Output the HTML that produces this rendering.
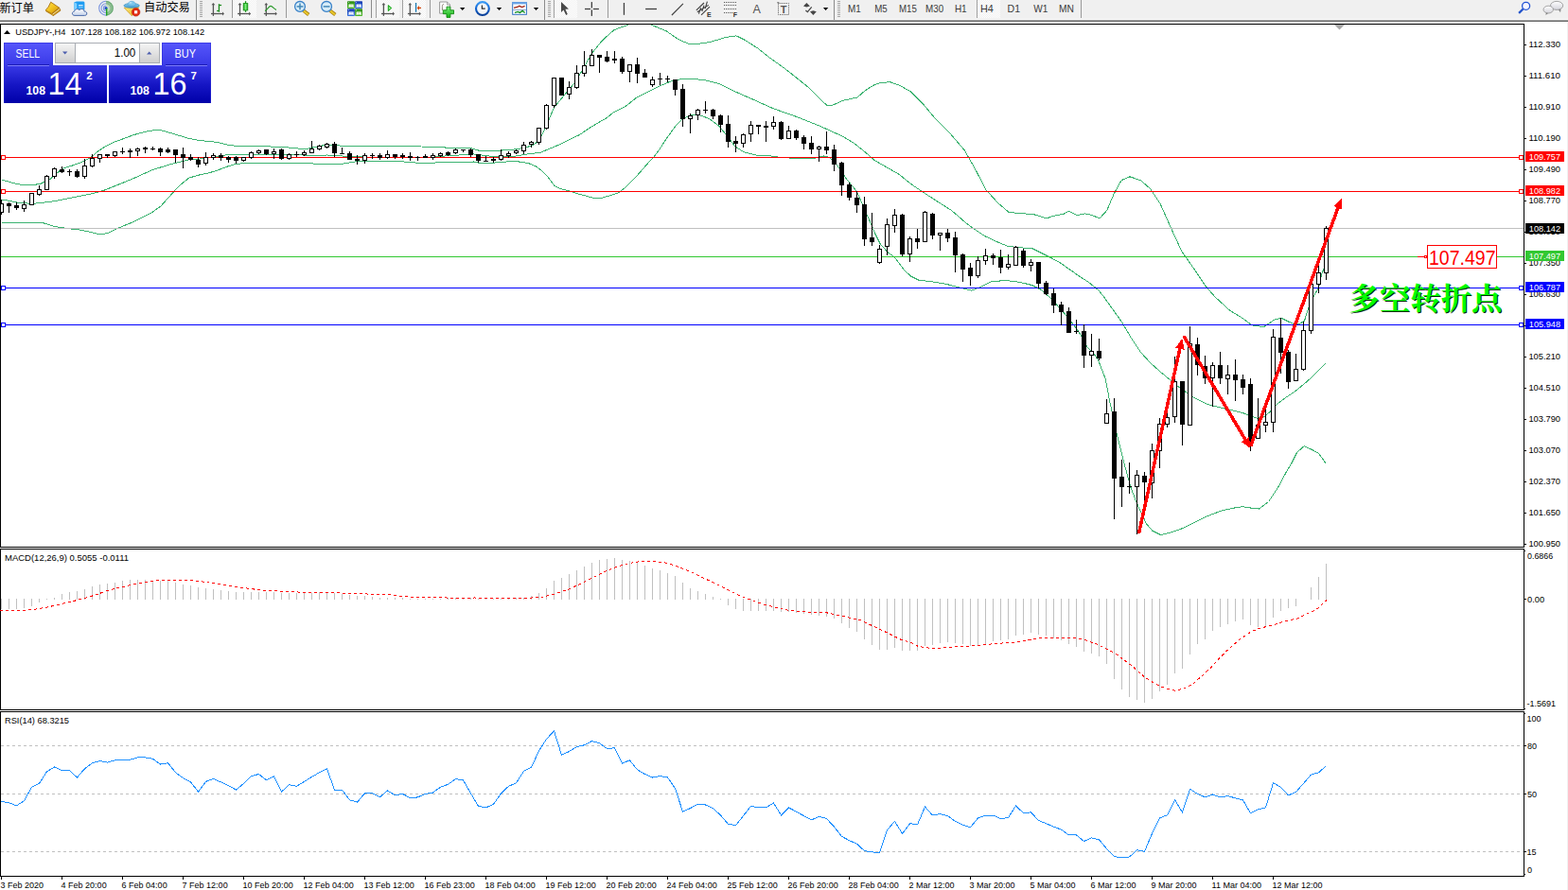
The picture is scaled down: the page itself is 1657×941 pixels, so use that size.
<!DOCTYPE html><html><head><meta charset="utf-8"><title>USDJPY H4</title>
<style>html,body{margin:0;padding:0;background:#fff;overflow:hidden}body{width:1657px;height:941px;position:relative;font-family:"Liberation Sans", sans-serif}svg{position:absolute;left:0;top:0;display:block}text{font-family:"Liberation Sans", sans-serif}</style></head><body>
<svg width="1657" height="941" viewBox="0 0 1657 941">
<defs>
<linearGradient id="gb" x1="0" y1="0" x2="0" y2="1"><stop offset="0" stop-color="#5050f4"/><stop offset="0.45" stop-color="#2c2cde"/><stop offset="1" stop-color="#0000b4"/></linearGradient>
<linearGradient id="gt" x1="0" y1="0" x2="0" y2="1"><stop offset="0" stop-color="#5252f6"/><stop offset="1" stop-color="#3c3ce8"/></linearGradient>
<linearGradient id="gbtn" x1="0" y1="0" x2="0" y2="1"><stop offset="0" stop-color="#f4f4f4"/><stop offset="0.5" stop-color="#e2e2e2"/><stop offset="1" stop-color="#cfcfcf"/></linearGradient>
<clipPath id="cm"><rect x="1" y="26" width="1609" height="552"/></clipPath>
</defs>
<rect x="0" y="0" width="1657" height="20" fill="#f0f0f0"/>
<rect x="0" y="20" width="1657" height="1" fill="#f9f9f9"/>
<rect x="0" y="21" width="1657" height="1" fill="#a2a2a2"/>
<rect x="0" y="22" width="1657" height="1" fill="#6a6a6a"/>
<g><defs><linearGradient id="gold" x1="0" y1="0" x2="1" y2="1"><stop offset="0" stop-color="#ffe15a"/><stop offset="0.5" stop-color="#f2c21c"/><stop offset="1" stop-color="#c98a10"/></linearGradient><linearGradient id="cloud" x1="0" y1="0" x2="0" y2="1"><stop offset="0" stop-color="#ffffff"/><stop offset="1" stop-color="#c4d2ea"/></linearGradient><linearGradient id="hat" x1="0" y1="0" x2="0" y2="1"><stop offset="0" stop-color="#8fd0f0"/><stop offset="1" stop-color="#3f97cc"/></linearGradient><linearGradient id="face" x1="0" y1="0" x2="1" y2="1"><stop offset="0" stop-color="#fff27a"/><stop offset="1" stop-color="#e3a51a"/></linearGradient><linearGradient id="cndl" x1="0" y1="0" x2="1" y2="0"><stop offset="0" stop-color="#18a818"/><stop offset="0.5" stop-color="#7dee7d"/><stop offset="1" stop-color="#18a818"/></linearGradient><linearGradient id="clk" x1="0" y1="0" x2="0" y2="1"><stop offset="0" stop-color="#3b9bf5"/><stop offset="0.5" stop-color="#0f62d2"/><stop offset="1" stop-color="#0a3f96"/></linearGradient><linearGradient id="plus" x1="0" y1="0" x2="0" y2="1"><stop offset="0" stop-color="#7cf07c"/><stop offset="1" stop-color="#12b012"/></linearGradient><linearGradient id="tg" x1="0" y1="0" x2="0" y2="1"><stop offset="0" stop-color="#2e8e14"/><stop offset="1" stop-color="#4fb82a"/></linearGradient><linearGradient id="tbb" x1="0" y1="0" x2="0" y2="1"><stop offset="0" stop-color="#1438b0"/><stop offset="1" stop-color="#3a74e0"/></linearGradient><linearGradient id="sig" x1="0" y1="0" x2="1" y2="0"><stop offset="0.45" stop-color="#3a62d6"/><stop offset="0.6" stop-color="#6aaa6a"/><stop offset="1" stop-color="#2e9a3a"/></linearGradient><radialGradient id="sigr" gradientUnits="userSpaceOnUse" cx="112.1" cy="8.7" r="7.6"><stop offset="0" stop-color="#e8f2e4"/><stop offset="0.55" stop-color="#a8cfa6"/><stop offset="1" stop-color="#4a9c58"/></radialGradient><linearGradient id="bub" x1="0" y1="0" x2="0" y2="1"><stop offset="0" stop-color="#ffffff"/><stop offset="1" stop-color="#d4d4dc"/></linearGradient><pattern id="dith" width="2" height="2" patternUnits="userSpaceOnUse"><rect width="2" height="2" fill="#f0f0f0"/><rect width="1" height="1" fill="#fff"/><rect x="1" y="1" width="1" height="1" fill="#fff"/></pattern></defs><text x="-0.6" y="12.5" font-size="12.2" fill="#000" textLength="36.6" lengthAdjust="spacingAndGlyphs" style="font-family:'Liberation Sans','Noto Sans CJK SC',sans-serif">新订单</text><text x="152" y="12.3" font-size="12.2" fill="#000" textLength="48.8" lengthAdjust="spacingAndGlyphs" style="font-family:'Liberation Sans','Noto Sans CJK SC',sans-serif">自动交易</text><path d="M62.6 8.2L64 11.1L56.1 16.7L54.6 14.4Z" fill="#c99418" stroke="#a8700f" stroke-width="0.8" stroke-linejoin="round"/><path d="M62.9 9.6L55.4 15.4" stroke="#f4e6b0" stroke-width="0.9"/><path d="M53.7 2.2L62.6 8.2L54.6 14.4L48.1 10.9L51.2 7.2Z" fill="url(#gold)" stroke="#a8700f" stroke-width="0.9" stroke-linejoin="round"/><path d="M48.1 10.9L54.6 14.4L56.1 16.7L48.6 12.2Z" fill="#b8820f"/><path d="M78.3 2.4L81 1.4H88.4L89.4 2.6V10.5H78.3Z" fill="#1e9df2"/><path d="M78.3 2.4L81.3 3.8V11H78.3Z" fill="#7fd0ff"/><rect x="83" y="5" width="4.6" height="1.3" fill="#cfeaff"/><rect x="83" y="7.4" width="4.6" height="1" fill="#8fd0ff"/><path d="M79 16.4C75.6 16.4 75.6 12.3 78.6 12.1C78.8 9.4 82.6 8.8 83.8 10.8C85.4 8.6 89.2 9.6 88.9 12C92.4 11.6 92.9 16.4 89.6 16.4Z" fill="url(#cloud)" stroke="#4c6cab" stroke-width="1"/><path d="M112.1 1.1A7.6 7.6 0 0 1 112.1 16.3Z" fill="url(#sigr)" opacity="0.8"/><g fill="none" stroke="#4a6fd8" stroke-width="1.1" opacity="0.7"><path d="M112.1 1.3A7.4 7.4 0 0 0 112.1 16.1"/><path d="M112.1 3.7A5 5 0 0 0 112.1 13.7"/><path d="M112.1 6A2.7 2.7 0 0 0 112.1 11.4"/></g><g fill="none" stroke="#3f8f4c" stroke-width="0.9" opacity="0.45"><path d="M112.1 1.3A7.4 7.4 0 0 1 112.1 16.1"/><path d="M112.1 3.7A5 5 0 0 1 112.1 13.7"/></g><circle cx="112" cy="8.6" r="1.6" fill="#2152cc"/><rect x="112" y="9" width="1.4" height="7.6" fill="#1ea01e"/><path d="M131.1 8.2L146.8 7.7L139.4 16.8Z" fill="url(#face)" stroke="#c9961a" stroke-width="0.7" stroke-linejoin="round"/><ellipse cx="139.1" cy="5.9" rx="8.2" ry="2.4" fill="url(#hat)" stroke="#3a8fc2" stroke-width="0.7"/><path d="M134.9 5.2C134.9 0 143.4 0 143.4 5.2C141 6.4 137.4 6.4 134.9 5.2Z" fill="#7cc6ec" stroke="#4a9fd0" stroke-width="0.5"/><ellipse cx="138" cy="2.8" rx="1.6" ry="0.9" fill="#c4e6f8" opacity="0.8"/><circle cx="143.6" cy="12.8" r="4.3" fill="#e22a10"/><circle cx="143.6" cy="12.8" r="4.3" fill="none" stroke="#b81e08" stroke-width="0.6"/><rect x="142" y="11.2" width="3.2" height="3.2" fill="#fff"/><rect x="207" y="0" width="1" height="21" fill="#8c8c8c" shape-rendering="crispEdges"/><g shape-rendering="crispEdges" fill="#a6a6a6"><rect x="211" y="1" width="3" height="1"/><rect x="211" y="3" width="3" height="1"/><rect x="211" y="5" width="3" height="1"/><rect x="211" y="7" width="3" height="1"/><rect x="211" y="9" width="3" height="1"/><rect x="211" y="11" width="3" height="1"/><rect x="211" y="13" width="3" height="1"/><rect x="211" y="15" width="3" height="1"/><rect x="211" y="17" width="3" height="1"/></g><g fill="#555"><rect x="224.75" y="4.5" width="1.3" height="12.4"/><path d="M223.5 5.2L225.4 3L227.3 5.2Z"/><rect x="223.0" y="13.85" width="12.4" height="1.3"/><path d="M235.0 12.6L237.0 14.5L235.0 16.4Z"/></g><g fill="#1a8a1a"><rect x="230.8" y="4.2" width="1.3" height="8.5"/><rect x="231.4" y="4.9" width="2.7" height="1.2"/><rect x="229.1" y="10.9" width="2.3" height="1.2"/></g><rect x="245" y="0" width="1" height="19" fill="#9a9a9a" shape-rendering="crispEdges"/><rect x="246" y="0" width="25" height="19" fill="url(#dith)" shape-rendering="crispEdges"/><g fill="#555"><rect x="252.85" y="4.5" width="1.3" height="12.4"/><path d="M251.6 5.2L253.5 3L255.4 5.2Z"/><rect x="251.1" y="13.85" width="12.4" height="1.3"/><path d="M263.1 12.6L265.1 14.5L263.1 16.4Z"/></g><rect x="258.9" y="1.2" width="1.3" height="11.6" fill="#149414"/><rect x="257.2" y="3.6" width="4.6" height="7.3" fill="url(#cndl)" stroke="#119011" stroke-width="0.8"/><g fill="#555"><rect x="280.65000000000003" y="4.5" width="1.3" height="12.4"/><path d="M279.40000000000003 5.2L281.3 3L283.2 5.2Z"/><rect x="278.90000000000003" y="13.85" width="12.4" height="1.3"/><path d="M290.90000000000003 12.6L292.90000000000003 14.5L290.90000000000003 16.4Z"/></g><path d="M280.1 11.6C283 10 284.2 6.4 286 6.3C288 6.2 289.4 9.6 292 10.3" fill="none" stroke="#2a9a2a" stroke-width="1.2"/><rect x="302" y="0" width="1" height="19" fill="#9a9a9a" shape-rendering="crispEdges"/><path d="M320.6 11.100000000000001L326.2 15.5" stroke="#a07a10" stroke-width="3.6" stroke-linecap="butt"/><path d="M320.8 11.3L325.9 15.3" stroke="#e8c62a" stroke-width="2.2"/><circle cx="317" cy="6.9" r="5.4" fill="#d6ecf8" stroke="#3a82c8" stroke-width="1.3"/><rect x="313.6" y="6.15" width="6.8" height="1.5" fill="#4388b8"/><rect x="316.25" y="3.5" width="1.5" height="6.8" fill="#4388b8"/><path d="M348.70000000000005 11.100000000000001L354.3 15.5" stroke="#a07a10" stroke-width="3.6" stroke-linecap="butt"/><path d="M348.90000000000003 11.3L354.0 15.3" stroke="#e8c62a" stroke-width="2.2"/><circle cx="345.1" cy="6.9" r="5.4" fill="#d6ecf8" stroke="#3a82c8" stroke-width="1.3"/><rect x="341.70000000000005" y="6.15" width="6.8" height="1.5" fill="#4388b8"/><rect x="367" y="1.2" width="7.9" height="7.8" rx="0.8" fill="url(#tg)"/><path d="M368.5 4.4H373.6V8.0H372.9V7.4H369.2V8.0H368.5Z" fill="#fff"/><rect x="369.6" y="5.5" width="3" height="0.7" fill="#9fd07a"/><rect x="368" y="2.2" width="0.9" height="0.9" fill="#dfe8ff" opacity="0.8"/><rect x="375.1" y="1.2" width="7.9" height="7.8" rx="0.8" fill="url(#tbb)"/><path d="M376.6 4.4H381.70000000000005V8.0H381.0V7.4H377.3V8.0H376.6Z" fill="#fff"/><rect x="377.70000000000005" y="5.5" width="3" height="0.7" fill="#8fa8e8"/><rect x="376.1" y="2.2" width="0.9" height="0.9" fill="#dfe8ff" opacity="0.8"/><rect x="367" y="9.2" width="7.9" height="7.8" rx="0.8" fill="url(#tbb)"/><path d="M368.5 12.399999999999999H373.6V16.0H372.9V15.399999999999999H369.2V16.0H368.5Z" fill="#fff"/><rect x="369.6" y="13.5" width="3" height="0.7" fill="#8fa8e8"/><rect x="368" y="10.2" width="0.9" height="0.9" fill="#dfe8ff" opacity="0.8"/><rect x="375.1" y="9.2" width="7.9" height="7.8" rx="0.8" fill="url(#tg)"/><path d="M376.6 12.399999999999999H381.70000000000005V16.0H381.0V15.399999999999999H377.3V16.0H376.6Z" fill="#fff"/><rect x="377.70000000000005" y="13.5" width="3" height="0.7" fill="#9fd07a"/><rect x="376.1" y="10.2" width="0.9" height="0.9" fill="#dfe8ff" opacity="0.8"/><rect x="392" y="0" width="1" height="19" fill="#8c8c8c" shape-rendering="crispEdges"/><rect x="398" y="0" width="24" height="19" fill="url(#dith)" shape-rendering="crispEdges"/><rect x="397" y="0" width="1" height="19" fill="#a0a0a0" shape-rendering="crispEdges"/><g fill="#555"><rect x="404.75" y="4.5" width="1.3" height="12.4"/><path d="M403.5 5.2L405.4 3L407.29999999999995 5.2Z"/><rect x="403.0" y="13.85" width="12.4" height="1.3"/><path d="M415.0 12.6L417.0 14.5L415.0 16.4Z"/></g><path d="M410.3 5.6V11.6L413.8 8.5Z" fill="#86e386" stroke="#12a012" stroke-width="1" stroke-linejoin="round"/><rect x="426" y="0" width="24" height="19" fill="url(#dith)" shape-rendering="crispEdges"/><rect x="425" y="0" width="1" height="19" fill="#a0a0a0" shape-rendering="crispEdges"/><g fill="#555"><rect x="432.65000000000003" y="4.5" width="1.3" height="12.4"/><path d="M431.40000000000003 5.2L433.3 3L435.2 5.2Z"/><rect x="430.90000000000003" y="13.85" width="12.4" height="1.3"/><path d="M442.90000000000003 12.6L444.90000000000003 14.5L442.90000000000003 16.4Z"/></g><rect x="438.9" y="3" width="1.3" height="9.8" fill="#1878b0"/><path d="M440.6 8.4L443 6V7.8H445V9H443V10.8Z" fill="#d24400"/><rect x="454" y="0" width="1" height="19" fill="#9a9a9a" shape-rendering="crispEdges"/><path d="M464.6 2H472.6L475.6 5V14.2H464.6Z" fill="#fbfbfb" stroke="#8e8e8e" stroke-width="0.9"/><path d="M472.6 2V5H475.6" fill="#e4e4e4" stroke="#8e8e8e" stroke-width="0.8"/><path d="M468.8 4.5C467.4 4.5 467.4 6 467.4 7.5V11" fill="none" stroke="#807868" stroke-width="0.9"/><path d="M472 7.2H475.9V10.8H479.5V14.7H475.9V18.4H472V14.7H468.3V10.8H472Z" fill="url(#plus)" stroke="#118a11" stroke-width="0.9" stroke-linejoin="round"/><path d="M486 7.9H491.4L488.7 10.9Z" fill="#000"/><circle cx="509.9" cy="9.05" r="6.9" fill="#f4f6f8" stroke="url(#clk)" stroke-width="2.1"/><path d="M509.4 5.4V9.2H512.7" fill="none" stroke="#2c2c2c" stroke-width="1.2"/><circle cx="509.9" cy="9.05" r="5.6" fill="none" stroke="#c4ccd6" stroke-width="0.5" stroke-dasharray="0.7 2.2"/><path d="M524.8 8.1H530.1999999999999L527.5 11.1Z" fill="#000"/><rect x="541.7" y="2.6" width="14.7" height="12.7" fill="#fff" stroke="#2f6fc0" stroke-width="1"/><rect x="541.2" y="2.1" width="15.7" height="2.3" fill="#6aa4e6"/><rect x="542.2" y="10" width="13.7" height="0.9" fill="#7f9fc8"/><path d="M543.1 8.4L547.3 7.2L548.8 6.3L551.6 7.5L554.6 6.3" fill="none" stroke="#a02010" stroke-width="1.3"/><path d="M544 13.4L547.3 12.4L549.4 13.4L552.2 11.4L554.6 13.4" fill="none" stroke="#109020" stroke-width="1.3"/><path d="M563.8 8.1H569.1999999999999L566.5 11.1Z" fill="#000"/><rect x="575" y="0" width="1" height="21" fill="#8c8c8c" shape-rendering="crispEdges"/><g shape-rendering="crispEdges" fill="#a6a6a6"><rect x="579" y="1" width="3" height="1"/><rect x="579" y="3" width="3" height="1"/><rect x="579" y="5" width="3" height="1"/><rect x="579" y="7" width="3" height="1"/><rect x="579" y="9" width="3" height="1"/><rect x="579" y="11" width="3" height="1"/><rect x="579" y="13" width="3" height="1"/><rect x="579" y="15" width="3" height="1"/><rect x="579" y="17" width="3" height="1"/></g><rect x="586" y="0" width="24" height="19" fill="url(#dith)" shape-rendering="crispEdges"/><rect x="585" y="0" width="1" height="19" fill="#a0a0a0" shape-rendering="crispEdges"/><path d="M593 2.1V13L595.5 10.6L598.2 16L599.8 15.1L597.4 9.7L601 9.5Z" fill="#484848"/><g fill="#404040"><rect x="624.7" y="2.1" width="1.3" height="6.4"/><rect x="624.7" y="10.4" width="1.3" height="6.5"/><rect x="618" y="8.85" width="6" height="1.3"/><rect x="626.9" y="8.85" width="6" height="1.3"/></g><rect x="642" y="0" width="1" height="19" fill="#9a9a9a" shape-rendering="crispEdges"/><rect x="658.8" y="3" width="1.3" height="12.8" fill="#404040"/><rect x="682.1" y="8.85" width="11.9" height="1.3" fill="#404040"/><path d="M709.9 16L721.9 3.9" stroke="#404040" stroke-width="1.2"/><g stroke="#404040" stroke-width="1.1" fill="none"><path d="M735.8 10.9L744 3"/><path d="M741 15.8L750 7.2"/><path d="M738.4 14.6L740.6 8.2M741.8 12L744 5.6M745.2 9L747.4 1.6M736.8 12.8L748.8 5.4"/></g><text x="747" y="17.8" font-size="7" font-weight="bold" fill="#333">E</text><g stroke="#505050" stroke-width="1" stroke-dasharray="1 1.05" shape-rendering="crispEdges"><path d="M765 2.5H778M765 5.5H778M765 9.5H778M765 13.5H774"/></g><text x="774.8" y="17.8" font-size="7" font-weight="bold" fill="#333">F</text><text x="795.4" y="13.9" font-size="12.6" fill="#555">A</text><rect x="822.5" y="3.5" width="11" height="12" fill="none" stroke="#555" stroke-width="1" stroke-dasharray="1 1.1"/><rect x="821.3" y="2.3" width="2" height="1" fill="#555"/><text x="828" y="13.6" font-size="11" font-weight="bold" fill="#555" text-anchor="middle">T</text><g fill="#454545"><path d="M849 6.6L852.4 3L855.9 6.6L852.4 7.6Z"/><path d="M856 12.3L859.4 15.9L862.8 12.3L859.4 11.3Z"/></g><path d="M851.4 11L853.4 12.7L857.7 7.3" fill="none" stroke="#454545" stroke-width="1.2"/><path d="M869.9 8H875.3L872.6 11Z" fill="#000"/><rect x="881" y="0" width="1" height="21" fill="#8c8c8c" shape-rendering="crispEdges"/><g shape-rendering="crispEdges" fill="#a6a6a6"><rect x="885" y="1" width="3" height="1"/><rect x="885" y="3" width="3" height="1"/><rect x="885" y="5" width="3" height="1"/><rect x="885" y="7" width="3" height="1"/><rect x="885" y="9" width="3" height="1"/><rect x="885" y="11" width="3" height="1"/><rect x="885" y="13" width="3" height="1"/><rect x="885" y="15" width="3" height="1"/><rect x="885" y="17" width="3" height="1"/></g><rect x="1033" y="0" width="24" height="19" fill="url(#dith)" shape-rendering="crispEdges"/><rect x="1032" y="0" width="1" height="19" fill="#a0a0a0" shape-rendering="crispEdges"/><text x="896.1" y="13" font-size="10.2" fill="#3c3c3c" textLength="13.8" lengthAdjust="spacingAndGlyphs">M1</text><text x="924.2" y="13" font-size="10.2" fill="#3c3c3c" textLength="13.5" lengthAdjust="spacingAndGlyphs">M5</text><text x="950.0" y="13" font-size="10.2" fill="#3c3c3c" textLength="18.8" lengthAdjust="spacingAndGlyphs">M15</text><text x="978.0" y="13" font-size="10.2" fill="#3c3c3c" textLength="19.1" lengthAdjust="spacingAndGlyphs">M30</text><text x="1008.9" y="13" font-size="10.2" fill="#3c3c3c" textLength="12.8" lengthAdjust="spacingAndGlyphs">H1</text><text x="1035.8999999999999" y="13" font-size="10.2" fill="#3c3c3c" textLength="13.9" lengthAdjust="spacingAndGlyphs">H4</text><text x="1064.6" y="13" font-size="10.2" fill="#3c3c3c" textLength="13.5" lengthAdjust="spacingAndGlyphs">D1</text><text x="1092.3" y="13" font-size="10.2" fill="#3c3c3c" textLength="15.1" lengthAdjust="spacingAndGlyphs">W1</text><text x="1119.1" y="13" font-size="10.2" fill="#3c3c3c" textLength="15.9" lengthAdjust="spacingAndGlyphs">MN</text><rect x="1142" y="0" width="1" height="19" fill="#9a9a9a" shape-rendering="crispEdges"/><path d="M1609.8 9.2L1605.1 13.9" stroke="#2253cc" stroke-width="2.2"/><circle cx="1612.6" cy="6.3" r="4" fill="#f6f6ff" stroke="#2253d4" stroke-width="1.3"/><path d="M1646.5 9.8L1649 13.2L1649.6 9.4Z" fill="#8a8a8a"/><ellipse cx="1645.1" cy="5.9" rx="6.6" ry="4.5" fill="url(#bub)" stroke="#8f8f8f" stroke-width="0.8"/><path d="M1634 13L1633.4 15.9L1636.6 13.6Z" fill="#777"/><ellipse cx="1636.2" cy="10.1" rx="5.2" ry="3.9" fill="url(#bub)" stroke="#8f8f8f" stroke-width="0.8"/></g>
<g shape-rendering="crispEdges">
<rect x="1656" y="23" width="1" height="918" fill="#f0f0f0"/>
<rect x="0" y="25" width="1611" height="1" fill="#000"/>
<rect x="0" y="25" width="1" height="554" fill="#000"/>
<rect x="1610" y="25" width="1" height="554" fill="#000"/>
<rect x="0" y="578" width="1611" height="1" fill="#000"/>
<rect x="0" y="580" width="1611" height="1" fill="#000"/>
<rect x="0" y="580" width="1" height="171" fill="#000"/>
<rect x="1610" y="580" width="1" height="171" fill="#000"/>
<rect x="0" y="750" width="1611" height="1" fill="#000"/>
<rect x="0" y="752" width="1611" height="1" fill="#000"/>
<rect x="0" y="752" width="1" height="175" fill="#000"/>
<rect x="1610" y="752" width="1" height="175" fill="#000"/>
<rect x="0" y="926" width="1611" height="1" fill="#000"/>
</g>
<g shape-rendering="crispEdges" clip-path="url(#cm)">
<polyline points="1.5,189.8 12.5,193.2 24.5,195.8 34.5,195.8 43.5,194.0 53.0,189.5 58.5,184.5 65.5,178.5 77.8,174.6 86.1,171.6 91.7,168.8 97.2,165.4 102.7,160.5 111.0,155.0 120.7,150.2 130.3,146.7 141.4,142.6 152.4,139.5 160.7,138.0 170.5,137.8 179.7,140.4 189.7,143.4 199.7,146.4 209.5,148.4 219.5,149.4 229.5,150.4 239.5,153.0 249.5,154.4 279.3,154.8 299.2,155.4 311.2,156.7 323.1,157.7 330.5,156.0 340.5,154.0 352.5,153.0 365.5,155.0 400.5,154.5 445.5,155.0 470.5,156.0 495.5,156.0 505.5,159.0 530.5,159.0 545.5,157.8 555.5,156.0 562.5,153.7 566.5,151.0 570.5,146.5 575.5,137.5 580.5,125.5 585.5,113.5 596.5,100.5 608.5,86.0 617.5,70.5 625.8,55.9 636.7,42.6 648.8,31.7 663.3,26.4 670.5,23.5 682.5,23.5 689.8,26.9 704.3,32.9 716.4,41.4 728.5,46.7 735.7,46.7 750.2,44.5 767.1,39.5 777.9,37.8 786.4,41.9 800.9,51.1 812.9,60.7 829.8,72.8 841.9,82.4 854.0,92.1 866.0,104.2 874.5,111.9 880.5,110.9 890.2,106.5 905.9,103.0 914.3,95.7 924.0,89.7 931.2,87.3 940.9,86.8 950.5,90.2 962.5,96.9 974.7,109.0 986.7,123.5 1003.9,140.9 1019.2,158.8 1029.4,176.6 1042.1,200.9 1054.9,214.9 1066.4,224.6 1080.4,225.6 1093.2,226.9 1105.9,231.0 1113.5,228.2 1123.8,226.4 1129.5,223.1 1138.3,227.6 1146.7,225.9 1154.4,227.6 1162.0,231.0 1169.7,222.5 1177.3,204.7 1185.0,190.7 1193.9,186.8 1205.4,190.7 1215.5,199.5 1225.8,214.9 1236.0,237.8 1248.8,265.9 1261.5,283.8 1274.3,302.9 1284.5,314.4 1299.8,328.4 1312.5,336.1 1322.7,343.7 1335.5,345.8 1342.5,341.0 1347.5,337.5 1354.5,336.5 1361.5,340.0 1367.5,342.5 1373.5,342.5 1378.5,339.0 1383.5,323.5 1388.5,312.5 1393.5,304.5 1396.5,290.5 1399.5,282.5 1401.5,278.5" fill="none" stroke="#3cb371" stroke-width="1"/>
<polyline points="1.5,211.3 6.5,211.8 12.5,212.9 16.5,213.9 24.5,214.7 30.5,215.1 33.5,215.5 37.5,215.1 41.5,214.5 45.5,214.1 50.3,213.7 60.2,212.1 80.2,208.1 100.1,204.1 110.0,201.2 120.0,197.2 139.9,189.2 159.8,180.2 169.8,176.9 179.7,173.9 189.7,171.3 199.7,168.9 209.5,168.3 219.5,166.7 229.5,165.3 239.5,163.7 259.5,163.3 299.2,163.3 319.2,163.9 330.5,165.0 345.5,164.0 370.5,165.5 400.5,166.5 440.5,167.0 470.5,165.0 500.5,163.0 525.5,166.0 545.5,165.0 560.5,162.5 570.5,161.5 587.5,154.5 600.5,148.3 612.5,142.5 624.5,134.3 640.5,125.0 648.8,118.6 660.5,112.9 672.9,103.0 697.1,90.9 711.5,84.9 721.2,83.6 730.9,83.2 745.3,84.9 759.8,88.5 774.3,95.7 793.6,104.2 817.8,115.0 841.9,123.5 866.0,133.1 890.2,144.0 902.3,151.2 914.3,160.9 924.0,169.3 938.5,177.8 950.5,184.5 957.5,190.5 965.5,196.5 975.5,203.2 990.5,213.0 1005.5,222.5 1020.5,235.5 1028.5,241.5 1040.5,249.5 1055.5,256.5 1065.5,260.5 1080.5,262.0 1090.5,262.5 1100.5,267.5 1110.5,272.5 1120.5,278.0 1130.5,285.0 1140.5,292.0 1150.5,298.5 1160.5,306.5 1165.5,312.5 1175.5,326.5 1185.5,340.5 1195.5,357.5 1205.5,372.5 1215.5,383.5 1225.5,392.5 1235.1,400.5 1244.5,408.2 1260.0,419.5 1275.3,427.3 1290.5,431.1 1300.5,433.5 1312.5,436.3 1321.1,439.4 1328.8,442.3 1336.5,440.2 1341.5,436.0 1349.2,427.5 1358.5,420.5 1368.5,413.8 1379.0,405.3 1389.2,396.0 1401.5,383.7" fill="none" stroke="#3cb371" stroke-width="1"/>
<polyline points="1.5,235.0 43.3,235.0 58.3,239.6 70.2,241.4 84.1,243.0 96.1,245.5 106.1,248.0 114.0,246.4 124.0,241.5 139.9,235.0 149.9,230.0 159.8,225.1 169.8,218.1 179.7,207.1 189.7,196.2 199.7,188.2 209.5,185.2 219.5,183.2 229.5,180.2 239.5,176.3 249.5,173.3 259.5,172.7 330.5,173.0 345.5,174.0 360.5,173.5 375.5,171.0 420.5,170.5 445.5,172.5 475.5,171.5 500.5,171.0 510.5,173.0 540.5,170.6 550.3,171.1 559.0,172.8 566.5,176.0 573.1,180.9 578.5,186.3 582.9,192.3 586.1,196.7 592.6,199.6 601.3,201.8 610.0,204.8 618.7,207.0 625.2,208.9 632.8,210.0 638.3,208.6 649.1,205.4 653.5,203.7 656.7,201.5 663.2,196.1 670.8,188.5 677.4,180.9 686.0,171.1 690.4,166.8 696.9,158.1 701.9,150.0 714.0,133.1 721.2,125.9 730.9,121.1 738.1,121.1 750.2,125.9 759.8,133.1 769.5,145.2 776.7,154.9 786.4,160.9 798.5,164.0 817.8,165.2 825.0,166.5 850.5,168.0 860.5,167.5 870.5,165.0 876.5,166.5 882.5,171.5 888.5,180.5 895.5,190.5 905.5,202.5 915.5,225.5 925.5,248.5 930.5,258.5 938.5,267.0 945.5,272.0 955.5,285.5 962.5,292.0 970.5,296.0 985.5,298.0 1000.5,300.5 1016.5,304.7 1026.5,307.2 1034.5,304.2 1047.2,297.8 1062.5,296.5 1077.5,298.3 1090.5,301.5 1100.5,306.5 1110.5,315.5 1120.5,326.5 1130.5,338.0 1140.5,351.5 1148.5,366.5 1155.5,373.5 1160.5,380.5 1163.5,388.5 1168.2,400.5 1172.9,425.4 1180.5,459.8 1187.3,487.5 1194.9,515.3 1201.5,532.5 1206.5,543.0 1211.2,553.5 1217.9,561.2 1226.5,565.5 1237.0,563.1 1250.5,558.3 1263.8,551.5 1275.3,545.9 1290.5,540.1 1305.9,536.7 1313.5,535.7 1320.5,536.9 1330.5,538.0 1340.5,530.5 1350.5,515.5 1358.5,500.5 1364.5,490.5 1370.5,478.5 1378.1,471.7 1385.8,475.1 1393.5,479.3 1401.5,490.5" fill="none" stroke="#3cb371" stroke-width="1"/>
</g>
<g shape-rendering="crispEdges">
<rect x="1" y="241" width="1609" height="1" fill="#c0c0c0"/>
<rect x="1" y="271" width="1609" height="1" fill="#32c832"/>
<rect x="1" y="166" width="1609" height="1" fill="#ff0000"/>
<rect x="1" y="202" width="1609" height="1" fill="#ff0000"/>
<rect x="1" y="304" width="1609" height="1" fill="#0000ff"/>
<rect x="1" y="343" width="1609" height="1" fill="#0000ff"/>
<rect x="1" y="164" width="5" height="5" fill="#ff0000"/>
<rect x="2" y="165" width="3" height="3" fill="#fff"/>
<rect x="1605" y="164" width="5" height="5" fill="#ff0000"/>
<rect x="1606" y="165" width="3" height="3" fill="#fff"/>
<rect x="1" y="200" width="5" height="5" fill="#ff0000"/>
<rect x="2" y="201" width="3" height="3" fill="#fff"/>
<rect x="1605" y="200" width="5" height="5" fill="#ff0000"/>
<rect x="1606" y="201" width="3" height="3" fill="#fff"/>
<rect x="1" y="302" width="5" height="5" fill="#0000ff"/>
<rect x="2" y="303" width="3" height="3" fill="#fff"/>
<rect x="1605" y="302" width="5" height="5" fill="#0000ff"/>
<rect x="1606" y="303" width="3" height="3" fill="#fff"/>
<rect x="1" y="341" width="5" height="5" fill="#0000ff"/>
<rect x="2" y="342" width="3" height="3" fill="#fff"/>
<rect x="1605" y="341" width="5" height="5" fill="#0000ff"/>
<rect x="1606" y="342" width="3" height="3" fill="#fff"/>
</g>
<g shape-rendering="crispEdges">
<rect x="1" y="211" width="1" height="16" fill="#000"/>
<rect x="1" y="215" width="3" height="10" fill="#000"/>
<rect x="1" y="216" width="2" height="8" fill="#fff"/>
<rect x="9" y="214" width="1" height="11" fill="#000"/>
<rect x="7" y="215" width="5" height="3" fill="#000"/>
<rect x="17" y="214" width="1" height="8" fill="#000"/>
<rect x="15" y="217" width="5" height="3" fill="#000"/>
<rect x="25" y="212" width="1" height="12" fill="#000"/>
<rect x="23" y="216" width="5" height="5" fill="#000"/>
<rect x="24" y="217" width="3" height="3" fill="#fff"/>
<rect x="33" y="204" width="1" height="13" fill="#000"/>
<rect x="31" y="204" width="5" height="13" fill="#000"/>
<rect x="32" y="205" width="3" height="11" fill="#fff"/>
<rect x="41" y="196" width="1" height="11" fill="#000"/>
<rect x="39" y="200" width="5" height="6" fill="#000"/>
<rect x="40" y="201" width="3" height="4" fill="#fff"/>
<rect x="49" y="185" width="1" height="16" fill="#000"/>
<rect x="47" y="186" width="5" height="15" fill="#000"/>
<rect x="48" y="187" width="3" height="13" fill="#fff"/>
<rect x="57" y="177" width="1" height="12" fill="#000"/>
<rect x="55" y="178" width="5" height="9" fill="#000"/>
<rect x="56" y="179" width="3" height="7" fill="#fff"/>
<rect x="65" y="176" width="1" height="7" fill="#000"/>
<rect x="63" y="179" width="5" height="3" fill="#000"/>
<rect x="73" y="179" width="1" height="7" fill="#000"/>
<rect x="71" y="181" width="5" height="1" fill="#000"/>
<rect x="81" y="179" width="1" height="9" fill="#000"/>
<rect x="79" y="181" width="5" height="6" fill="#000"/>
<rect x="89" y="168" width="1" height="21" fill="#000"/>
<rect x="87" y="175" width="5" height="12" fill="#000"/>
<rect x="88" y="176" width="3" height="10" fill="#fff"/>
<rect x="97" y="163" width="1" height="14" fill="#000"/>
<rect x="95" y="167" width="5" height="9" fill="#000"/>
<rect x="96" y="168" width="3" height="7" fill="#fff"/>
<rect x="105" y="163" width="1" height="9" fill="#000"/>
<rect x="103" y="163" width="5" height="5" fill="#000"/>
<rect x="104" y="164" width="3" height="3" fill="#fff"/>
<rect x="113" y="163" width="1" height="4" fill="#000"/>
<rect x="111" y="163" width="5" height="2" fill="#000"/>
<rect x="121" y="160" width="1" height="6" fill="#000"/>
<rect x="119" y="160" width="5" height="5" fill="#000"/>
<rect x="120" y="161" width="3" height="3" fill="#fff"/>
<rect x="129" y="156" width="1" height="7" fill="#000"/>
<rect x="127" y="160" width="5" height="1" fill="#000"/>
<rect x="137" y="157" width="1" height="10" fill="#000"/>
<rect x="135" y="159" width="5" height="2" fill="#000"/>
<rect x="145" y="156" width="1" height="9" fill="#000"/>
<rect x="143" y="157" width="5" height="3" fill="#000"/>
<rect x="144" y="158" width="3" height="1" fill="#fff"/>
<rect x="153" y="155" width="1" height="7" fill="#000"/>
<rect x="151" y="156" width="5" height="2" fill="#000"/>
<rect x="161" y="155" width="1" height="4" fill="#000"/>
<rect x="159" y="157" width="5" height="1" fill="#000"/>
<rect x="169" y="156" width="1" height="9" fill="#000"/>
<rect x="167" y="157" width="5" height="4" fill="#000"/>
<rect x="177" y="156" width="1" height="6" fill="#000"/>
<rect x="175" y="158" width="5" height="3" fill="#000"/>
<rect x="185" y="158" width="1" height="14" fill="#000"/>
<rect x="183" y="158" width="5" height="6" fill="#000"/>
<rect x="193" y="156" width="1" height="22" fill="#000"/>
<rect x="191" y="163" width="5" height="4" fill="#000"/>
<rect x="201" y="163" width="1" height="7" fill="#000"/>
<rect x="199" y="166" width="5" height="3" fill="#000"/>
<rect x="209" y="166" width="1" height="11" fill="#000"/>
<rect x="207" y="169" width="5" height="5" fill="#000"/>
<rect x="217" y="161" width="1" height="14" fill="#000"/>
<rect x="215" y="166" width="5" height="7" fill="#000"/>
<rect x="216" y="167" width="3" height="5" fill="#fff"/>
<rect x="225" y="162" width="1" height="7" fill="#000"/>
<rect x="223" y="164" width="5" height="3" fill="#000"/>
<rect x="224" y="165" width="3" height="1" fill="#fff"/>
<rect x="233" y="162" width="1" height="8" fill="#000"/>
<rect x="231" y="164" width="5" height="3" fill="#000"/>
<rect x="241" y="165" width="1" height="7" fill="#000"/>
<rect x="239" y="166" width="5" height="3" fill="#000"/>
<rect x="249" y="165" width="1" height="8" fill="#000"/>
<rect x="247" y="166" width="5" height="4" fill="#000"/>
<rect x="257" y="166" width="1" height="5" fill="#000"/>
<rect x="255" y="166" width="5" height="4" fill="#000"/>
<rect x="256" y="167" width="3" height="2" fill="#fff"/>
<rect x="265" y="160" width="1" height="8" fill="#000"/>
<rect x="263" y="161" width="5" height="6" fill="#000"/>
<rect x="264" y="162" width="3" height="4" fill="#fff"/>
<rect x="273" y="158" width="1" height="5" fill="#000"/>
<rect x="271" y="159" width="5" height="3" fill="#000"/>
<rect x="272" y="160" width="3" height="1" fill="#fff"/>
<rect x="281" y="158" width="1" height="6" fill="#000"/>
<rect x="279" y="158" width="5" height="5" fill="#000"/>
<rect x="289" y="157" width="1" height="11" fill="#000"/>
<rect x="287" y="160" width="5" height="3" fill="#000"/>
<rect x="288" y="161" width="3" height="1" fill="#fff"/>
<rect x="297" y="157" width="1" height="12" fill="#000"/>
<rect x="295" y="158" width="5" height="10" fill="#000"/>
<rect x="305" y="162" width="1" height="7" fill="#000"/>
<rect x="303" y="163" width="5" height="5" fill="#000"/>
<rect x="304" y="164" width="3" height="3" fill="#fff"/>
<rect x="313" y="160" width="1" height="6" fill="#000"/>
<rect x="311" y="163" width="5" height="1" fill="#000"/>
<rect x="321" y="159" width="1" height="6" fill="#000"/>
<rect x="319" y="161" width="5" height="3" fill="#000"/>
<rect x="320" y="162" width="3" height="1" fill="#fff"/>
<rect x="329" y="149" width="1" height="13" fill="#000"/>
<rect x="327" y="157" width="5" height="5" fill="#000"/>
<rect x="328" y="158" width="3" height="3" fill="#fff"/>
<rect x="337" y="153" width="1" height="6" fill="#000"/>
<rect x="335" y="154" width="5" height="4" fill="#000"/>
<rect x="336" y="155" width="3" height="2" fill="#fff"/>
<rect x="345" y="151" width="1" height="6" fill="#000"/>
<rect x="343" y="152" width="5" height="4" fill="#000"/>
<rect x="344" y="153" width="3" height="2" fill="#fff"/>
<rect x="353" y="150" width="1" height="16" fill="#000"/>
<rect x="351" y="152" width="5" height="10" fill="#000"/>
<rect x="361" y="156" width="1" height="7" fill="#000"/>
<rect x="359" y="162" width="5" height="1" fill="#000"/>
<rect x="369" y="160" width="1" height="9" fill="#000"/>
<rect x="367" y="162" width="5" height="7" fill="#000"/>
<rect x="377" y="164" width="1" height="10" fill="#000"/>
<rect x="375" y="168" width="5" height="2" fill="#000"/>
<rect x="385" y="162" width="1" height="11" fill="#000"/>
<rect x="383" y="164" width="5" height="6" fill="#000"/>
<rect x="384" y="165" width="3" height="4" fill="#fff"/>
<rect x="393" y="162" width="1" height="6" fill="#000"/>
<rect x="391" y="164" width="5" height="1" fill="#000"/>
<rect x="401" y="162" width="1" height="7" fill="#000"/>
<rect x="399" y="164" width="5" height="3" fill="#000"/>
<rect x="409" y="159" width="1" height="9" fill="#000"/>
<rect x="407" y="163" width="5" height="4" fill="#000"/>
<rect x="408" y="164" width="3" height="2" fill="#fff"/>
<rect x="417" y="163" width="1" height="5" fill="#000"/>
<rect x="415" y="163" width="5" height="3" fill="#000"/>
<rect x="425" y="162" width="1" height="6" fill="#000"/>
<rect x="423" y="164" width="5" height="2" fill="#000"/>
<rect x="433" y="161" width="1" height="9" fill="#000"/>
<rect x="431" y="165" width="5" height="2" fill="#000"/>
<rect x="441" y="165" width="1" height="5" fill="#000"/>
<rect x="439" y="166" width="5" height="1" fill="#000"/>
<rect x="449" y="163" width="1" height="4" fill="#000"/>
<rect x="447" y="165" width="5" height="2" fill="#000"/>
<rect x="457" y="162" width="1" height="7" fill="#000"/>
<rect x="455" y="164" width="5" height="3" fill="#000"/>
<rect x="456" y="165" width="3" height="1" fill="#fff"/>
<rect x="465" y="161" width="1" height="5" fill="#000"/>
<rect x="463" y="162" width="5" height="3" fill="#000"/>
<rect x="464" y="163" width="3" height="1" fill="#fff"/>
<rect x="473" y="160" width="1" height="5" fill="#000"/>
<rect x="471" y="161" width="5" height="3" fill="#000"/>
<rect x="481" y="157" width="1" height="6" fill="#000"/>
<rect x="479" y="158" width="5" height="4" fill="#000"/>
<rect x="480" y="159" width="3" height="2" fill="#fff"/>
<rect x="489" y="158" width="1" height="3" fill="#000"/>
<rect x="487" y="158" width="5" height="1" fill="#000"/>
<rect x="497" y="157" width="1" height="9" fill="#000"/>
<rect x="495" y="158" width="5" height="6" fill="#000"/>
<rect x="505" y="163" width="1" height="9" fill="#000"/>
<rect x="503" y="163" width="5" height="7" fill="#000"/>
<rect x="513" y="165" width="1" height="6" fill="#000"/>
<rect x="511" y="170" width="5" height="1" fill="#000"/>
<rect x="521" y="166" width="1" height="6" fill="#000"/>
<rect x="519" y="168" width="5" height="2" fill="#000"/>
<rect x="529" y="158" width="1" height="12" fill="#000"/>
<rect x="527" y="164" width="5" height="5" fill="#000"/>
<rect x="528" y="165" width="3" height="3" fill="#fff"/>
<rect x="537" y="160" width="1" height="7" fill="#000"/>
<rect x="535" y="162" width="5" height="3" fill="#000"/>
<rect x="536" y="163" width="3" height="1" fill="#fff"/>
<rect x="545" y="158" width="1" height="5" fill="#000"/>
<rect x="543" y="159" width="5" height="3" fill="#000"/>
<rect x="544" y="160" width="3" height="1" fill="#fff"/>
<rect x="553" y="150" width="1" height="13" fill="#000"/>
<rect x="551" y="153" width="5" height="7" fill="#000"/>
<rect x="552" y="154" width="3" height="5" fill="#fff"/>
<rect x="561" y="149" width="1" height="7" fill="#000"/>
<rect x="559" y="150" width="5" height="3" fill="#000"/>
<rect x="560" y="151" width="3" height="1" fill="#fff"/>
<rect x="569" y="135" width="1" height="18" fill="#000"/>
<rect x="567" y="135" width="5" height="16" fill="#000"/>
<rect x="568" y="136" width="3" height="14" fill="#fff"/>
<rect x="577" y="110" width="1" height="27" fill="#000"/>
<rect x="575" y="111" width="5" height="25" fill="#000"/>
<rect x="576" y="112" width="3" height="23" fill="#fff"/>
<rect x="585" y="82" width="1" height="32" fill="#000"/>
<rect x="583" y="82" width="5" height="30" fill="#000"/>
<rect x="584" y="83" width="3" height="28" fill="#fff"/>
<rect x="593" y="82" width="1" height="19" fill="#000"/>
<rect x="591" y="82" width="5" height="19" fill="#000"/>
<rect x="601" y="86" width="1" height="19" fill="#000"/>
<rect x="599" y="92" width="5" height="8" fill="#000"/>
<rect x="600" y="93" width="3" height="6" fill="#fff"/>
<rect x="609" y="69" width="1" height="25" fill="#000"/>
<rect x="607" y="77" width="5" height="16" fill="#000"/>
<rect x="608" y="78" width="3" height="14" fill="#fff"/>
<rect x="617" y="54" width="1" height="27" fill="#000"/>
<rect x="615" y="69" width="5" height="9" fill="#000"/>
<rect x="616" y="70" width="3" height="7" fill="#fff"/>
<rect x="625" y="52" width="1" height="18" fill="#000"/>
<rect x="623" y="58" width="5" height="12" fill="#000"/>
<rect x="624" y="59" width="3" height="10" fill="#fff"/>
<rect x="633" y="58" width="1" height="19" fill="#000"/>
<rect x="631" y="58" width="5" height="3" fill="#000"/>
<rect x="641" y="54" width="1" height="12" fill="#000"/>
<rect x="639" y="60" width="5" height="5" fill="#000"/>
<rect x="649" y="54" width="1" height="13" fill="#000"/>
<rect x="647" y="62" width="5" height="2" fill="#000"/>
<rect x="657" y="60" width="1" height="18" fill="#000"/>
<rect x="655" y="62" width="5" height="14" fill="#000"/>
<rect x="665" y="68" width="1" height="19" fill="#000"/>
<rect x="663" y="68" width="5" height="8" fill="#000"/>
<rect x="664" y="69" width="3" height="6" fill="#fff"/>
<rect x="673" y="61" width="1" height="27" fill="#000"/>
<rect x="671" y="68" width="5" height="10" fill="#000"/>
<rect x="681" y="73" width="1" height="9" fill="#000"/>
<rect x="679" y="77" width="5" height="5" fill="#000"/>
<rect x="689" y="81" width="1" height="11" fill="#000"/>
<rect x="687" y="84" width="5" height="6" fill="#000"/>
<rect x="688" y="85" width="3" height="4" fill="#fff"/>
<rect x="697" y="77" width="1" height="13" fill="#000"/>
<rect x="695" y="83" width="5" height="1" fill="#000"/>
<rect x="705" y="80" width="1" height="7" fill="#000"/>
<rect x="703" y="83" width="5" height="1" fill="#000"/>
<rect x="713" y="84" width="1" height="17" fill="#000"/>
<rect x="711" y="84" width="5" height="11" fill="#000"/>
<rect x="721" y="89" width="1" height="45" fill="#000"/>
<rect x="719" y="94" width="5" height="32" fill="#000"/>
<rect x="729" y="120" width="1" height="21" fill="#000"/>
<rect x="727" y="122" width="5" height="4" fill="#000"/>
<rect x="728" y="123" width="3" height="2" fill="#fff"/>
<rect x="737" y="115" width="1" height="12" fill="#000"/>
<rect x="735" y="116" width="5" height="6" fill="#000"/>
<rect x="736" y="117" width="3" height="4" fill="#fff"/>
<rect x="745" y="107" width="1" height="13" fill="#000"/>
<rect x="743" y="116" width="5" height="1" fill="#000"/>
<rect x="753" y="115" width="1" height="11" fill="#000"/>
<rect x="751" y="116" width="5" height="7" fill="#000"/>
<rect x="761" y="121" width="1" height="19" fill="#000"/>
<rect x="759" y="122" width="5" height="10" fill="#000"/>
<rect x="769" y="122" width="1" height="34" fill="#000"/>
<rect x="767" y="131" width="5" height="19" fill="#000"/>
<rect x="777" y="144" width="1" height="17" fill="#000"/>
<rect x="775" y="149" width="5" height="3" fill="#000"/>
<rect x="785" y="141" width="1" height="15" fill="#000"/>
<rect x="783" y="142" width="5" height="10" fill="#000"/>
<rect x="784" y="143" width="3" height="8" fill="#fff"/>
<rect x="793" y="128" width="1" height="22" fill="#000"/>
<rect x="791" y="132" width="5" height="10" fill="#000"/>
<rect x="792" y="133" width="3" height="8" fill="#fff"/>
<rect x="801" y="132" width="1" height="10" fill="#000"/>
<rect x="799" y="132" width="5" height="2" fill="#000"/>
<rect x="809" y="128" width="1" height="22" fill="#000"/>
<rect x="807" y="133" width="5" height="2" fill="#000"/>
<rect x="817" y="123" width="1" height="14" fill="#000"/>
<rect x="815" y="129" width="5" height="5" fill="#000"/>
<rect x="816" y="130" width="3" height="3" fill="#fff"/>
<rect x="825" y="128" width="1" height="20" fill="#000"/>
<rect x="823" y="129" width="5" height="18" fill="#000"/>
<rect x="833" y="133" width="1" height="14" fill="#000"/>
<rect x="831" y="138" width="5" height="9" fill="#000"/>
<rect x="832" y="139" width="3" height="7" fill="#fff"/>
<rect x="841" y="137" width="1" height="11" fill="#000"/>
<rect x="839" y="138" width="5" height="8" fill="#000"/>
<rect x="849" y="143" width="1" height="15" fill="#000"/>
<rect x="847" y="145" width="5" height="7" fill="#000"/>
<rect x="857" y="144" width="1" height="19" fill="#000"/>
<rect x="855" y="151" width="5" height="7" fill="#000"/>
<rect x="865" y="154" width="1" height="17" fill="#000"/>
<rect x="863" y="155" width="5" height="3" fill="#000"/>
<rect x="864" y="156" width="3" height="1" fill="#fff"/>
<rect x="873" y="139" width="1" height="24" fill="#000"/>
<rect x="871" y="155" width="5" height="4" fill="#000"/>
<rect x="881" y="153" width="1" height="28" fill="#000"/>
<rect x="879" y="158" width="5" height="16" fill="#000"/>
<rect x="889" y="171" width="1" height="36" fill="#000"/>
<rect x="887" y="172" width="5" height="24" fill="#000"/>
<rect x="897" y="193" width="1" height="19" fill="#000"/>
<rect x="895" y="195" width="5" height="14" fill="#000"/>
<rect x="905" y="202" width="1" height="23" fill="#000"/>
<rect x="903" y="209" width="5" height="8" fill="#000"/>
<rect x="913" y="208" width="1" height="52" fill="#000"/>
<rect x="911" y="216" width="5" height="37" fill="#000"/>
<rect x="921" y="225" width="1" height="35" fill="#000"/>
<rect x="919" y="251" width="5" height="5" fill="#000"/>
<rect x="929" y="259" width="1" height="20" fill="#000"/>
<rect x="927" y="263" width="5" height="15" fill="#000"/>
<rect x="928" y="264" width="3" height="13" fill="#fff"/>
<rect x="937" y="231" width="1" height="39" fill="#000"/>
<rect x="935" y="237" width="5" height="24" fill="#000"/>
<rect x="936" y="238" width="3" height="22" fill="#fff"/>
<rect x="945" y="221" width="1" height="25" fill="#000"/>
<rect x="943" y="227" width="5" height="12" fill="#000"/>
<rect x="944" y="228" width="3" height="10" fill="#fff"/>
<rect x="953" y="226" width="1" height="45" fill="#000"/>
<rect x="951" y="227" width="5" height="42" fill="#000"/>
<rect x="961" y="250" width="1" height="27" fill="#000"/>
<rect x="959" y="252" width="5" height="17" fill="#000"/>
<rect x="960" y="253" width="3" height="15" fill="#fff"/>
<rect x="969" y="242" width="1" height="21" fill="#000"/>
<rect x="967" y="252" width="5" height="4" fill="#000"/>
<rect x="977" y="223" width="1" height="33" fill="#000"/>
<rect x="975" y="224" width="5" height="32" fill="#000"/>
<rect x="976" y="225" width="3" height="30" fill="#fff"/>
<rect x="985" y="225" width="1" height="28" fill="#000"/>
<rect x="983" y="226" width="5" height="23" fill="#000"/>
<rect x="993" y="246" width="1" height="19" fill="#000"/>
<rect x="991" y="246" width="5" height="3" fill="#000"/>
<rect x="992" y="247" width="3" height="1" fill="#fff"/>
<rect x="1001" y="242" width="1" height="14" fill="#000"/>
<rect x="999" y="246" width="5" height="6" fill="#000"/>
<rect x="1009" y="245" width="1" height="43" fill="#000"/>
<rect x="1007" y="251" width="5" height="19" fill="#000"/>
<rect x="1017" y="268" width="1" height="30" fill="#000"/>
<rect x="1015" y="269" width="5" height="16" fill="#000"/>
<rect x="1025" y="278" width="1" height="24" fill="#000"/>
<rect x="1023" y="283" width="5" height="9" fill="#000"/>
<rect x="1033" y="271" width="1" height="23" fill="#000"/>
<rect x="1031" y="275" width="5" height="17" fill="#000"/>
<rect x="1032" y="276" width="3" height="15" fill="#fff"/>
<rect x="1041" y="263" width="1" height="17" fill="#000"/>
<rect x="1039" y="270" width="5" height="6" fill="#000"/>
<rect x="1040" y="271" width="3" height="4" fill="#fff"/>
<rect x="1049" y="268" width="1" height="12" fill="#000"/>
<rect x="1047" y="270" width="5" height="3" fill="#000"/>
<rect x="1057" y="264" width="1" height="25" fill="#000"/>
<rect x="1055" y="272" width="5" height="11" fill="#000"/>
<rect x="1065" y="269" width="1" height="16" fill="#000"/>
<rect x="1063" y="279" width="5" height="4" fill="#000"/>
<rect x="1064" y="280" width="3" height="2" fill="#fff"/>
<rect x="1073" y="260" width="1" height="21" fill="#000"/>
<rect x="1071" y="261" width="5" height="20" fill="#000"/>
<rect x="1072" y="262" width="3" height="18" fill="#fff"/>
<rect x="1081" y="263" width="1" height="20" fill="#000"/>
<rect x="1079" y="265" width="5" height="16" fill="#000"/>
<rect x="1089" y="274" width="1" height="13" fill="#000"/>
<rect x="1087" y="277" width="5" height="4" fill="#000"/>
<rect x="1088" y="278" width="3" height="2" fill="#fff"/>
<rect x="1097" y="277" width="1" height="28" fill="#000"/>
<rect x="1095" y="277" width="5" height="23" fill="#000"/>
<rect x="1105" y="297" width="1" height="15" fill="#000"/>
<rect x="1103" y="299" width="5" height="12" fill="#000"/>
<rect x="1113" y="305" width="1" height="26" fill="#000"/>
<rect x="1111" y="310" width="5" height="13" fill="#000"/>
<rect x="1121" y="319" width="1" height="25" fill="#000"/>
<rect x="1119" y="322" width="5" height="8" fill="#000"/>
<rect x="1129" y="325" width="1" height="27" fill="#000"/>
<rect x="1127" y="329" width="5" height="23" fill="#000"/>
<rect x="1137" y="338" width="1" height="15" fill="#000"/>
<rect x="1135" y="350" width="5" height="1" fill="#000"/>
<rect x="1145" y="343" width="1" height="46" fill="#000"/>
<rect x="1143" y="350" width="5" height="26" fill="#000"/>
<rect x="1153" y="353" width="1" height="35" fill="#000"/>
<rect x="1151" y="371" width="5" height="5" fill="#000"/>
<rect x="1152" y="372" width="3" height="3" fill="#fff"/>
<rect x="1161" y="358" width="1" height="23" fill="#000"/>
<rect x="1159" y="371" width="5" height="8" fill="#000"/>
<rect x="1169" y="422" width="1" height="26" fill="#000"/>
<rect x="1167" y="437" width="5" height="11" fill="#000"/>
<rect x="1168" y="438" width="3" height="9" fill="#fff"/>
<rect x="1177" y="421" width="1" height="128" fill="#000"/>
<rect x="1175" y="435" width="5" height="71" fill="#000"/>
<rect x="1185" y="486" width="1" height="50" fill="#000"/>
<rect x="1183" y="504" width="5" height="11" fill="#000"/>
<rect x="1193" y="489" width="1" height="33" fill="#000"/>
<rect x="1191" y="514" width="5" height="1" fill="#000"/>
<rect x="1201" y="497" width="1" height="68" fill="#000"/>
<rect x="1199" y="502" width="5" height="13" fill="#000"/>
<rect x="1200" y="503" width="3" height="11" fill="#fff"/>
<rect x="1209" y="499" width="1" height="31" fill="#000"/>
<rect x="1207" y="503" width="5" height="7" fill="#000"/>
<rect x="1217" y="469" width="1" height="58" fill="#000"/>
<rect x="1215" y="476" width="5" height="35" fill="#000"/>
<rect x="1216" y="477" width="3" height="33" fill="#fff"/>
<rect x="1225" y="442" width="1" height="53" fill="#000"/>
<rect x="1223" y="448" width="5" height="29" fill="#000"/>
<rect x="1224" y="449" width="3" height="27" fill="#fff"/>
<rect x="1233" y="436" width="1" height="16" fill="#000"/>
<rect x="1231" y="441" width="5" height="8" fill="#000"/>
<rect x="1232" y="442" width="3" height="6" fill="#fff"/>
<rect x="1241" y="377" width="1" height="70" fill="#000"/>
<rect x="1239" y="403" width="5" height="38" fill="#000"/>
<rect x="1240" y="404" width="3" height="36" fill="#fff"/>
<rect x="1249" y="403" width="1" height="68" fill="#000"/>
<rect x="1247" y="403" width="5" height="46" fill="#000"/>
<rect x="1257" y="345" width="1" height="105" fill="#000"/>
<rect x="1255" y="363" width="5" height="87" fill="#000"/>
<rect x="1256" y="364" width="3" height="85" fill="#fff"/>
<rect x="1265" y="357" width="1" height="40" fill="#000"/>
<rect x="1263" y="364" width="5" height="22" fill="#000"/>
<rect x="1273" y="376" width="1" height="30" fill="#000"/>
<rect x="1271" y="387" width="5" height="13" fill="#000"/>
<rect x="1281" y="383" width="1" height="47" fill="#000"/>
<rect x="1279" y="386" width="5" height="14" fill="#000"/>
<rect x="1280" y="387" width="3" height="12" fill="#fff"/>
<rect x="1289" y="372" width="1" height="34" fill="#000"/>
<rect x="1287" y="386" width="5" height="14" fill="#000"/>
<rect x="1297" y="386" width="1" height="31" fill="#000"/>
<rect x="1295" y="396" width="5" height="5" fill="#000"/>
<rect x="1296" y="397" width="3" height="3" fill="#fff"/>
<rect x="1305" y="380" width="1" height="44" fill="#000"/>
<rect x="1303" y="396" width="5" height="6" fill="#000"/>
<rect x="1313" y="396" width="1" height="21" fill="#000"/>
<rect x="1311" y="401" width="5" height="9" fill="#000"/>
<rect x="1321" y="400" width="1" height="77" fill="#000"/>
<rect x="1319" y="406" width="5" height="60" fill="#000"/>
<rect x="1329" y="421" width="1" height="43" fill="#000"/>
<rect x="1327" y="449" width="5" height="15" fill="#000"/>
<rect x="1328" y="450" width="3" height="13" fill="#fff"/>
<rect x="1337" y="433" width="1" height="24" fill="#000"/>
<rect x="1335" y="446" width="5" height="4" fill="#000"/>
<rect x="1336" y="447" width="3" height="2" fill="#fff"/>
<rect x="1345" y="348" width="1" height="109" fill="#000"/>
<rect x="1343" y="356" width="5" height="91" fill="#000"/>
<rect x="1344" y="357" width="3" height="89" fill="#fff"/>
<rect x="1353" y="336" width="1" height="59" fill="#000"/>
<rect x="1351" y="357" width="5" height="16" fill="#000"/>
<rect x="1361" y="370" width="1" height="41" fill="#000"/>
<rect x="1359" y="372" width="5" height="32" fill="#000"/>
<rect x="1369" y="374" width="1" height="29" fill="#000"/>
<rect x="1367" y="390" width="5" height="13" fill="#000"/>
<rect x="1368" y="391" width="3" height="11" fill="#fff"/>
<rect x="1377" y="340" width="1" height="52" fill="#000"/>
<rect x="1375" y="349" width="5" height="42" fill="#000"/>
<rect x="1376" y="350" width="3" height="40" fill="#fff"/>
<rect x="1385" y="300" width="1" height="53" fill="#000"/>
<rect x="1383" y="300" width="5" height="50" fill="#000"/>
<rect x="1384" y="301" width="3" height="48" fill="#fff"/>
<rect x="1393" y="281" width="1" height="29" fill="#000"/>
<rect x="1391" y="288" width="5" height="13" fill="#000"/>
<rect x="1392" y="289" width="3" height="11" fill="#fff"/>
<rect x="1401" y="239" width="1" height="57" fill="#000"/>
<rect x="1399" y="241" width="5" height="48" fill="#000"/>
<rect x="1400" y="242" width="3" height="46" fill="#fff"/>
</g>
<g shape-rendering="crispEdges">
<rect x="1" y="633" width="1" height="11" fill="#c0c0c0"/>
<rect x="9" y="633" width="1" height="11" fill="#c0c0c0"/>
<rect x="17" y="633" width="1" height="11" fill="#c0c0c0"/>
<rect x="25" y="633" width="1" height="10" fill="#c0c0c0"/>
<rect x="33" y="633" width="1" height="8" fill="#c0c0c0"/>
<rect x="41" y="633" width="1" height="4" fill="#c0c0c0"/>
<rect x="49" y="633" width="1" height="1" fill="#c0c0c0"/>
<rect x="57" y="632" width="1" height="2" fill="#c0c0c0"/>
<rect x="65" y="628" width="1" height="6" fill="#c0c0c0"/>
<rect x="73" y="626" width="1" height="8" fill="#c0c0c0"/>
<rect x="81" y="625" width="1" height="9" fill="#c0c0c0"/>
<rect x="89" y="623" width="1" height="11" fill="#c0c0c0"/>
<rect x="97" y="620" width="1" height="14" fill="#c0c0c0"/>
<rect x="105" y="618" width="1" height="16" fill="#c0c0c0"/>
<rect x="113" y="617" width="1" height="17" fill="#c0c0c0"/>
<rect x="121" y="616" width="1" height="18" fill="#c0c0c0"/>
<rect x="129" y="614" width="1" height="20" fill="#c0c0c0"/>
<rect x="137" y="613" width="1" height="21" fill="#c0c0c0"/>
<rect x="145" y="613" width="1" height="21" fill="#c0c0c0"/>
<rect x="153" y="613" width="1" height="21" fill="#c0c0c0"/>
<rect x="161" y="614" width="1" height="20" fill="#c0c0c0"/>
<rect x="169" y="614" width="1" height="20" fill="#c0c0c0"/>
<rect x="177" y="614" width="1" height="20" fill="#c0c0c0"/>
<rect x="185" y="616" width="1" height="18" fill="#c0c0c0"/>
<rect x="193" y="618" width="1" height="16" fill="#c0c0c0"/>
<rect x="201" y="619" width="1" height="15" fill="#c0c0c0"/>
<rect x="209" y="621" width="1" height="13" fill="#c0c0c0"/>
<rect x="217" y="622" width="1" height="12" fill="#c0c0c0"/>
<rect x="225" y="623" width="1" height="11" fill="#c0c0c0"/>
<rect x="233" y="624" width="1" height="10" fill="#c0c0c0"/>
<rect x="241" y="625" width="1" height="9" fill="#c0c0c0"/>
<rect x="249" y="626" width="1" height="8" fill="#c0c0c0"/>
<rect x="257" y="626" width="1" height="8" fill="#c0c0c0"/>
<rect x="265" y="626" width="1" height="8" fill="#c0c0c0"/>
<rect x="273" y="626" width="1" height="8" fill="#c0c0c0"/>
<rect x="281" y="626" width="1" height="8" fill="#c0c0c0"/>
<rect x="289" y="626" width="1" height="8" fill="#c0c0c0"/>
<rect x="297" y="627" width="1" height="7" fill="#c0c0c0"/>
<rect x="305" y="627" width="1" height="7" fill="#c0c0c0"/>
<rect x="313" y="627" width="1" height="7" fill="#c0c0c0"/>
<rect x="321" y="627" width="1" height="7" fill="#c0c0c0"/>
<rect x="329" y="627" width="1" height="7" fill="#c0c0c0"/>
<rect x="337" y="626" width="1" height="8" fill="#c0c0c0"/>
<rect x="345" y="626" width="1" height="8" fill="#c0c0c0"/>
<rect x="353" y="627" width="1" height="7" fill="#c0c0c0"/>
<rect x="361" y="628" width="1" height="6" fill="#c0c0c0"/>
<rect x="369" y="629" width="1" height="5" fill="#c0c0c0"/>
<rect x="377" y="630" width="1" height="4" fill="#c0c0c0"/>
<rect x="385" y="630" width="1" height="4" fill="#c0c0c0"/>
<rect x="393" y="631" width="1" height="3" fill="#c0c0c0"/>
<rect x="401" y="632" width="1" height="2" fill="#c0c0c0"/>
<rect x="409" y="632" width="1" height="2" fill="#c0c0c0"/>
<rect x="417" y="632" width="1" height="2" fill="#c0c0c0"/>
<rect x="425" y="632" width="1" height="2" fill="#c0c0c0"/>
<rect x="433" y="633" width="1" height="1" fill="#c0c0c0"/>
<rect x="441" y="633" width="1" height="1" fill="#c0c0c0"/>
<rect x="449" y="633" width="1" height="1" fill="#c0c0c0"/>
<rect x="457" y="633" width="1" height="1" fill="#c0c0c0"/>
<rect x="465" y="633" width="1" height="1" fill="#c0c0c0"/>
<rect x="473" y="632" width="1" height="2" fill="#c0c0c0"/>
<rect x="481" y="632" width="1" height="2" fill="#c0c0c0"/>
<rect x="489" y="632" width="1" height="2" fill="#c0c0c0"/>
<rect x="497" y="632" width="1" height="2" fill="#c0c0c0"/>
<rect x="505" y="633" width="1" height="1" fill="#c0c0c0"/>
<rect x="513" y="633" width="1" height="1" fill="#c0c0c0"/>
<rect x="521" y="633" width="1" height="1" fill="#c0c0c0"/>
<rect x="529" y="633" width="1" height="1" fill="#c0c0c0"/>
<rect x="537" y="633" width="1" height="1" fill="#c0c0c0"/>
<rect x="545" y="632" width="1" height="2" fill="#c0c0c0"/>
<rect x="553" y="632" width="1" height="2" fill="#c0c0c0"/>
<rect x="561" y="630" width="1" height="4" fill="#c0c0c0"/>
<rect x="569" y="627" width="1" height="7" fill="#c0c0c0"/>
<rect x="577" y="622" width="1" height="12" fill="#c0c0c0"/>
<rect x="585" y="614" width="1" height="20" fill="#c0c0c0"/>
<rect x="593" y="611" width="1" height="23" fill="#c0c0c0"/>
<rect x="601" y="607" width="1" height="27" fill="#c0c0c0"/>
<rect x="609" y="603" width="1" height="31" fill="#c0c0c0"/>
<rect x="617" y="599" width="1" height="35" fill="#c0c0c0"/>
<rect x="625" y="595" width="1" height="39" fill="#c0c0c0"/>
<rect x="633" y="592" width="1" height="42" fill="#c0c0c0"/>
<rect x="641" y="591" width="1" height="43" fill="#c0c0c0"/>
<rect x="649" y="590" width="1" height="44" fill="#c0c0c0"/>
<rect x="657" y="592" width="1" height="42" fill="#c0c0c0"/>
<rect x="665" y="593" width="1" height="41" fill="#c0c0c0"/>
<rect x="673" y="595" width="1" height="39" fill="#c0c0c0"/>
<rect x="681" y="598" width="1" height="36" fill="#c0c0c0"/>
<rect x="689" y="601" width="1" height="33" fill="#c0c0c0"/>
<rect x="697" y="603" width="1" height="31" fill="#c0c0c0"/>
<rect x="705" y="606" width="1" height="28" fill="#c0c0c0"/>
<rect x="713" y="609" width="1" height="25" fill="#c0c0c0"/>
<rect x="721" y="616" width="1" height="18" fill="#c0c0c0"/>
<rect x="729" y="622" width="1" height="12" fill="#c0c0c0"/>
<rect x="737" y="625" width="1" height="9" fill="#c0c0c0"/>
<rect x="745" y="628" width="1" height="6" fill="#c0c0c0"/>
<rect x="753" y="631" width="1" height="3" fill="#c0c0c0"/>
<rect x="761" y="633" width="1" height="1" fill="#c0c0c0"/>
<rect x="769" y="633" width="1" height="7" fill="#c0c0c0"/>
<rect x="777" y="633" width="1" height="11" fill="#c0c0c0"/>
<rect x="785" y="633" width="1" height="13" fill="#c0c0c0"/>
<rect x="793" y="633" width="1" height="13" fill="#c0c0c0"/>
<rect x="801" y="633" width="1" height="13" fill="#c0c0c0"/>
<rect x="809" y="633" width="1" height="13" fill="#c0c0c0"/>
<rect x="817" y="633" width="1" height="13" fill="#c0c0c0"/>
<rect x="825" y="633" width="1" height="14" fill="#c0c0c0"/>
<rect x="833" y="633" width="1" height="14" fill="#c0c0c0"/>
<rect x="841" y="633" width="1" height="15" fill="#c0c0c0"/>
<rect x="849" y="633" width="1" height="16" fill="#c0c0c0"/>
<rect x="857" y="633" width="1" height="17" fill="#c0c0c0"/>
<rect x="865" y="633" width="1" height="18" fill="#c0c0c0"/>
<rect x="873" y="633" width="1" height="19" fill="#c0c0c0"/>
<rect x="881" y="633" width="1" height="21" fill="#c0c0c0"/>
<rect x="889" y="633" width="1" height="26" fill="#c0c0c0"/>
<rect x="897" y="633" width="1" height="31" fill="#c0c0c0"/>
<rect x="905" y="633" width="1" height="35" fill="#c0c0c0"/>
<rect x="913" y="633" width="1" height="43" fill="#c0c0c0"/>
<rect x="921" y="633" width="1" height="49" fill="#c0c0c0"/>
<rect x="929" y="633" width="1" height="54" fill="#c0c0c0"/>
<rect x="937" y="633" width="1" height="54" fill="#c0c0c0"/>
<rect x="945" y="633" width="1" height="52" fill="#c0c0c0"/>
<rect x="953" y="633" width="1" height="55" fill="#c0c0c0"/>
<rect x="961" y="633" width="1" height="55" fill="#c0c0c0"/>
<rect x="969" y="633" width="1" height="55" fill="#c0c0c0"/>
<rect x="977" y="633" width="1" height="50" fill="#c0c0c0"/>
<rect x="985" y="633" width="1" height="49" fill="#c0c0c0"/>
<rect x="993" y="633" width="1" height="47" fill="#c0c0c0"/>
<rect x="1001" y="633" width="1" height="46" fill="#c0c0c0"/>
<rect x="1009" y="633" width="1" height="47" fill="#c0c0c0"/>
<rect x="1017" y="633" width="1" height="48" fill="#c0c0c0"/>
<rect x="1025" y="633" width="1" height="50" fill="#c0c0c0"/>
<rect x="1033" y="633" width="1" height="50" fill="#c0c0c0"/>
<rect x="1041" y="633" width="1" height="48" fill="#c0c0c0"/>
<rect x="1049" y="633" width="1" height="45" fill="#c0c0c0"/>
<rect x="1057" y="633" width="1" height="44" fill="#c0c0c0"/>
<rect x="1065" y="633" width="1" height="43" fill="#c0c0c0"/>
<rect x="1073" y="633" width="1" height="39" fill="#c0c0c0"/>
<rect x="1081" y="633" width="1" height="38" fill="#c0c0c0"/>
<rect x="1089" y="633" width="1" height="36" fill="#c0c0c0"/>
<rect x="1097" y="633" width="1" height="38" fill="#c0c0c0"/>
<rect x="1105" y="633" width="1" height="39" fill="#c0c0c0"/>
<rect x="1113" y="633" width="1" height="42" fill="#c0c0c0"/>
<rect x="1121" y="633" width="1" height="44" fill="#c0c0c0"/>
<rect x="1129" y="633" width="1" height="48" fill="#c0c0c0"/>
<rect x="1137" y="633" width="1" height="51" fill="#c0c0c0"/>
<rect x="1145" y="633" width="1" height="56" fill="#c0c0c0"/>
<rect x="1153" y="633" width="1" height="58" fill="#c0c0c0"/>
<rect x="1161" y="633" width="1" height="61" fill="#c0c0c0"/>
<rect x="1169" y="633" width="1" height="69" fill="#c0c0c0"/>
<rect x="1177" y="633" width="1" height="85" fill="#c0c0c0"/>
<rect x="1185" y="633" width="1" height="96" fill="#c0c0c0"/>
<rect x="1193" y="633" width="1" height="104" fill="#c0c0c0"/>
<rect x="1201" y="633" width="1" height="107" fill="#c0c0c0"/>
<rect x="1209" y="633" width="1" height="110" fill="#c0c0c0"/>
<rect x="1217" y="633" width="1" height="106" fill="#c0c0c0"/>
<rect x="1225" y="633" width="1" height="98" fill="#c0c0c0"/>
<rect x="1233" y="633" width="1" height="91" fill="#c0c0c0"/>
<rect x="1241" y="633" width="1" height="79" fill="#c0c0c0"/>
<rect x="1249" y="633" width="1" height="74" fill="#c0c0c0"/>
<rect x="1257" y="633" width="1" height="59" fill="#c0c0c0"/>
<rect x="1265" y="633" width="1" height="48" fill="#c0c0c0"/>
<rect x="1273" y="633" width="1" height="43" fill="#c0c0c0"/>
<rect x="1281" y="633" width="1" height="34" fill="#c0c0c0"/>
<rect x="1289" y="633" width="1" height="30" fill="#c0c0c0"/>
<rect x="1297" y="633" width="1" height="27" fill="#c0c0c0"/>
<rect x="1305" y="633" width="1" height="24" fill="#c0c0c0"/>
<rect x="1313" y="633" width="1" height="22" fill="#c0c0c0"/>
<rect x="1321" y="633" width="1" height="28" fill="#c0c0c0"/>
<rect x="1329" y="633" width="1" height="30" fill="#c0c0c0"/>
<rect x="1337" y="633" width="1" height="30" fill="#c0c0c0"/>
<rect x="1345" y="633" width="1" height="20" fill="#c0c0c0"/>
<rect x="1353" y="633" width="1" height="13" fill="#c0c0c0"/>
<rect x="1361" y="633" width="1" height="10" fill="#c0c0c0"/>
<rect x="1369" y="633" width="1" height="8" fill="#c0c0c0"/>
<rect x="1385" y="621" width="1" height="13" fill="#c0c0c0"/>
<rect x="1393" y="610" width="1" height="24" fill="#c0c0c0"/>
<rect x="1401" y="596" width="1" height="38" fill="#c0c0c0"/>
<polyline points="0.5,645.4 13.2,645.9 25.8,645.4 38.5,643.9 51.2,641.8 63.9,638.8 76.5,635.8 89.2,632.5 101.9,628.7 114.5,624.1 127.2,621.1 139.9,618.0 152.5,615.5 165.3,614.0 177.9,613.7 203.3,613.7 216.0,615.2 228.5,617.3 241.3,619.3 254.0,621.1 266.5,622.8 279.3,624.1 304.5,625.6 330.0,626.6 355.5,626.9 380.5,627.6 400.5,628.7 413.2,628.7 425.8,630.7 451.2,631.7 471.5,632.0 476.5,632.7 501.9,632.0 519.5,632.5 552.5,632.7 572.9,631.2 585.5,628.2 598.2,624.1 610.9,618.5 623.5,612.2 636.2,605.8 648.9,600.3 661.5,596.2 674.3,593.9 692.0,593.7 704.7,595.2 717.4,599.5 730.0,604.6 742.7,610.9 755.4,616.5 768.1,623.1 780.7,629.4 793.4,634.2 806.1,638.8 818.2,641.8 830.9,644.9 851.2,646.9 874.0,647.9 889.2,651.2 909.5,655.8 922.2,661.8 937.4,668.9 952.5,676.5 962.7,679.1 970.3,683.4 986.8,685.9 1003.3,684.2 1028.5,682.9 1054.0,680.3 1074.3,679.1 1092.0,676.0 1104.7,674.0 1130.0,674.0 1145.2,676.0 1160.5,681.6 1178.2,690.5 1193.4,701.9 1201.0,708.2 1209.8,716.1 1220.3,722.8 1230.8,727.5 1241.3,730.1 1250.1,728.4 1260.5,723.1 1269.4,715.2 1279.9,705.6 1286.9,697.7 1297.5,687.2 1309.7,676.3 1322.0,667.9 1332.5,663.9 1344.8,661.2 1357.0,657.0 1371.1,653.9 1379.8,649.5 1390.4,645.1 1402.1,634.6" fill="none" stroke="#ff0000" stroke-width="1" stroke-dasharray="3 3"/>
<line x1="1" y1="788.5" x2="1610" y2="788.5" stroke="#c0c0c0" stroke-width="1" stroke-dasharray="3 3"/>
<line x1="1" y1="839.5" x2="1610" y2="839.5" stroke="#c0c0c0" stroke-width="1" stroke-dasharray="3 3"/>
<line x1="1" y1="900.5" x2="1610" y2="900.5" stroke="#c0c0c0" stroke-width="1" stroke-dasharray="3 3"/>
<polyline points="1.5,847.5 9.5,848.7 17.5,851.9 25.5,846.6 33.5,832.2 41.5,828.4 49.5,815.7 57.5,811.0 65.5,814.8 73.5,814.8 81.5,822.0 89.5,812.8 97.5,806.7 105.5,804.6 113.5,806.1 121.5,803.8 129.5,803.2 137.5,803.2 145.5,800.9 153.5,800.9 161.5,802.3 169.5,808.1 177.5,806.7 185.5,816.8 193.5,822.6 201.5,826.9 209.5,837.1 217.5,826.4 225.5,823.5 233.5,826.9 241.5,830.7 249.5,835.1 257.5,828.4 265.5,820.6 273.5,818.5 281.5,824.9 289.5,820.6 297.5,837.1 305.5,829.8 313.5,831.3 321.5,826.4 329.5,821.4 337.5,816.8 345.5,812.8 353.5,835.1 361.5,835.1 369.5,845.8 377.5,848.1 385.5,838.8 393.5,838.8 401.5,842.9 409.5,835.9 417.5,840.9 425.5,839.4 433.5,843.8 441.5,842.9 449.5,839.4 457.5,838.0 465.5,832.2 473.5,829.3 481.5,823.5 489.5,824.9 497.5,838.8 505.5,852.4 513.5,853.9 521.5,850.4 529.5,838.8 537.5,831.3 545.5,827.8 553.5,815.4 561.5,811.3 569.5,793.9 577.5,781.5 585.5,772.8 593.5,798.3 601.5,794.5 609.5,789.6 617.5,787.8 625.5,783.5 633.5,785.8 641.5,791.6 649.5,790.7 657.5,807.0 665.5,803.8 673.5,813.9 681.5,818.5 689.5,822.0 697.5,820.6 705.5,822.0 713.5,833.6 721.5,858.2 729.5,854.5 737.5,850.1 745.5,851.0 753.5,854.5 761.5,862.0 769.5,871.3 777.5,872.7 785.5,862.6 793.5,852.4 801.5,853.9 809.5,853.9 817.5,849.0 825.5,862.0 833.5,853.9 841.5,858.2 849.5,862.6 857.5,866.9 865.5,863.4 873.5,865.5 881.5,874.2 889.5,884.3 897.5,888.7 905.5,892.1 913.5,899.7 921.5,900.8 929.5,902.0 937.5,877.6 945.5,868.4 953.5,881.4 961.5,870.7 969.5,871.9 977.5,853.0 985.5,862.0 993.5,860.5 1001.5,862.6 1009.5,868.4 1017.5,872.1 1025.5,874.7 1033.5,864.9 1041.5,862.0 1049.5,862.0 1057.5,865.5 1065.5,864.6 1073.5,851.9 1081.5,859.7 1089.5,858.8 1097.5,867.5 1105.5,870.7 1113.5,874.2 1121.5,877.1 1129.5,882.9 1137.5,882.9 1145.5,889.5 1153.5,885.8 1161.5,887.8 1169.5,897.3 1177.5,905.5 1185.5,906.9 1193.5,906.0 1201.5,898.8 1209.5,900.2 1217.5,881.4 1225.5,864.9 1233.5,861.7 1241.5,845.8 1249.5,858.8 1257.5,834.2 1265.5,839.4 1273.5,842.9 1281.5,840.0 1289.5,842.9 1297.5,841.7 1305.5,843.8 1313.5,845.8 1321.5,859.7 1329.5,855.9 1337.5,853.9 1345.5,827.8 1353.5,832.2 1361.5,840.9 1369.5,837.4 1377.5,828.4 1385.5,819.1 1393.5,816.8 1401.5,809.6" fill="none" stroke="#1e90ff" stroke-width="1"/>
</g>
<g shape-rendering="crispEdges">
<rect x="1611" y="47" width="2" height="1" fill="#000"/>
<rect x="1611" y="80" width="2" height="1" fill="#000"/>
<rect x="1611" y="113" width="2" height="1" fill="#000"/>
<rect x="1611" y="146" width="2" height="1" fill="#000"/>
<rect x="1611" y="179" width="2" height="1" fill="#000"/>
<rect x="1611" y="212" width="2" height="1" fill="#000"/>
<rect x="1611" y="245" width="2" height="1" fill="#000"/>
<rect x="1611" y="278" width="2" height="1" fill="#000"/>
<rect x="1611" y="311" width="2" height="1" fill="#000"/>
<rect x="1611" y="344" width="2" height="1" fill="#000"/>
<rect x="1611" y="377" width="2" height="1" fill="#000"/>
<rect x="1611" y="410" width="2" height="1" fill="#000"/>
<rect x="1611" y="443" width="2" height="1" fill="#000"/>
<rect x="1611" y="476" width="2" height="1" fill="#000"/>
<rect x="1611" y="509" width="2" height="1" fill="#000"/>
<rect x="1611" y="542" width="2" height="1" fill="#000"/>
<rect x="1611" y="575" width="2" height="1" fill="#000"/>
<rect x="1611" y="633" width="2" height="1" fill="#000"/>
<rect x="1611" y="582" width="1" height="1" fill="#000"/>
<rect x="1611" y="749" width="1" height="1" fill="#000"/>
<rect x="1611" y="754" width="1" height="1" fill="#000"/>
<rect x="1611" y="924" width="1" height="1" fill="#000"/>
<rect x="1611" y="788" width="2" height="1" fill="#000"/>
<rect x="1611" y="839" width="2" height="1" fill="#000"/>
<rect x="1611" y="900" width="2" height="1" fill="#000"/>
<rect x="1" y="927" width="1" height="3" fill="#000"/>
<rect x="65" y="927" width="1" height="3" fill="#000"/>
<rect x="129" y="927" width="1" height="3" fill="#000"/>
<rect x="193" y="927" width="1" height="3" fill="#000"/>
<rect x="257" y="927" width="1" height="3" fill="#000"/>
<rect x="321" y="927" width="1" height="3" fill="#000"/>
<rect x="385" y="927" width="1" height="3" fill="#000"/>
<rect x="449" y="927" width="1" height="3" fill="#000"/>
<rect x="513" y="927" width="1" height="3" fill="#000"/>
<rect x="577" y="927" width="1" height="3" fill="#000"/>
<rect x="641" y="927" width="1" height="3" fill="#000"/>
<rect x="705" y="927" width="1" height="3" fill="#000"/>
<rect x="769" y="927" width="1" height="3" fill="#000"/>
<rect x="833" y="927" width="1" height="3" fill="#000"/>
<rect x="897" y="927" width="1" height="3" fill="#000"/>
<rect x="961" y="927" width="1" height="3" fill="#000"/>
<rect x="1025" y="927" width="1" height="3" fill="#000"/>
<rect x="1089" y="927" width="1" height="3" fill="#000"/>
<rect x="1153" y="927" width="1" height="3" fill="#000"/>
<rect x="1217" y="927" width="1" height="3" fill="#000"/>
<rect x="1281" y="927" width="1" height="3" fill="#000"/>
<rect x="1345" y="927" width="1" height="3" fill="#000"/>
</g>
<text x="1615.4" y="50.3" font-size="9" fill="#000" textLength="33.6" lengthAdjust="spacingAndGlyphs">112.330</text>
<text x="1615.4" y="83.3" font-size="9" fill="#000" textLength="33.6" lengthAdjust="spacingAndGlyphs">111.610</text>
<text x="1615.4" y="116.3" font-size="9" fill="#000" textLength="33.6" lengthAdjust="spacingAndGlyphs">110.910</text>
<text x="1615.4" y="149.3" font-size="9" fill="#000" textLength="33.6" lengthAdjust="spacingAndGlyphs">110.190</text>
<text x="1615.4" y="182.3" font-size="9" fill="#000" textLength="33.6" lengthAdjust="spacingAndGlyphs">109.490</text>
<text x="1615.4" y="215.3" font-size="9" fill="#000" textLength="33.6" lengthAdjust="spacingAndGlyphs">108.770</text>
<text x="1615.4" y="248.3" font-size="9" fill="#000" textLength="33.6" lengthAdjust="spacingAndGlyphs">108.050</text>
<text x="1615.4" y="281.3" font-size="9" fill="#000" textLength="33.6" lengthAdjust="spacingAndGlyphs">107.350</text>
<text x="1615.4" y="314.3" font-size="9" fill="#000" textLength="33.6" lengthAdjust="spacingAndGlyphs">106.630</text>
<text x="1615.4" y="347.3" font-size="9" fill="#000" textLength="33.6" lengthAdjust="spacingAndGlyphs">105.930</text>
<text x="1615.4" y="380.3" font-size="9" fill="#000" textLength="33.6" lengthAdjust="spacingAndGlyphs">105.210</text>
<text x="1615.4" y="413.3" font-size="9" fill="#000" textLength="33.6" lengthAdjust="spacingAndGlyphs">104.510</text>
<text x="1615.4" y="446.3" font-size="9" fill="#000" textLength="33.6" lengthAdjust="spacingAndGlyphs">103.790</text>
<text x="1615.4" y="479.3" font-size="9" fill="#000" textLength="33.6" lengthAdjust="spacingAndGlyphs">103.070</text>
<text x="1615.4" y="512.3" font-size="9" fill="#000" textLength="33.6" lengthAdjust="spacingAndGlyphs">102.370</text>
<text x="1615.4" y="545.3" font-size="9" fill="#000" textLength="33.6" lengthAdjust="spacingAndGlyphs">101.650</text>
<text x="1615.4" y="578.3" font-size="9" fill="#000" textLength="33.6" lengthAdjust="spacingAndGlyphs">100.950</text>
<text x="1614.1" y="591" font-size="9" fill="#000" textLength="27" lengthAdjust="spacingAndGlyphs">0.6866</text>
<text x="1614.1" y="636.5" font-size="9" fill="#000" textLength="18" lengthAdjust="spacingAndGlyphs">0.00</text>
<text x="1613.5" y="746.9" font-size="9" fill="#000" textLength="30.5" lengthAdjust="spacingAndGlyphs">-1.5691</text>
<text x="1613.5" y="763" font-size="9" fill="#000">100</text>
<text x="1614.1" y="791.5" font-size="9" fill="#000">80</text>
<text x="1614.1" y="842.5" font-size="9" fill="#000">50</text>
<text x="1613.5" y="903.5" font-size="9" fill="#000">15</text>
<text x="1614.1" y="922.5" font-size="9" fill="#000">0</text>
<text x="0.6" y="939" font-size="9" fill="#000">3 Feb 2020</text>
<text x="64.6" y="939" font-size="9" fill="#000">4 Feb 20:00</text>
<text x="128.6" y="939" font-size="9" fill="#000">6 Feb 04:00</text>
<text x="192.6" y="939" font-size="9" fill="#000">7 Feb 12:00</text>
<text x="256.6" y="939" font-size="9" fill="#000">10 Feb 20:00</text>
<text x="320.6" y="939" font-size="9" fill="#000">12 Feb 04:00</text>
<text x="384.6" y="939" font-size="9" fill="#000">13 Feb 12:00</text>
<text x="448.6" y="939" font-size="9" fill="#000">16 Feb 23:00</text>
<text x="512.6" y="939" font-size="9" fill="#000">18 Feb 04:00</text>
<text x="576.6" y="939" font-size="9" fill="#000">19 Feb 12:00</text>
<text x="640.6" y="939" font-size="9" fill="#000">20 Feb 20:00</text>
<text x="704.6" y="939" font-size="9" fill="#000">24 Feb 04:00</text>
<text x="768.6" y="939" font-size="9" fill="#000">25 Feb 12:00</text>
<text x="832.6" y="939" font-size="9" fill="#000">26 Feb 20:00</text>
<text x="896.6" y="939" font-size="9" fill="#000">28 Feb 04:00</text>
<text x="960.6" y="939" font-size="9" fill="#000">2 Mar 12:00</text>
<text x="1024.6" y="939" font-size="9" fill="#000">3 Mar 20:00</text>
<text x="1088.6" y="939" font-size="9" fill="#000">5 Mar 04:00</text>
<text x="1152.6" y="939" font-size="9" fill="#000">6 Mar 12:00</text>
<text x="1216.6" y="939" font-size="9" fill="#000">9 Mar 20:00</text>
<text x="1280.6" y="939" font-size="9" fill="#000">11 Mar 04:00</text>
<text x="1344.6" y="939" font-size="9" fill="#000">12 Mar 12:00</text>
<g shape-rendering="crispEdges">
<rect x="1612" y="160" width="41" height="11" fill="#ff0000"/>
<rect x="1612" y="196" width="41" height="11" fill="#ff0000"/>
<rect x="1612" y="236" width="41" height="11" fill="#000"/>
<rect x="1612" y="265" width="41" height="11" fill="#32c832"/>
<rect x="1612" y="298" width="41" height="11" fill="#0000ff"/>
<rect x="1612" y="337" width="41" height="11" fill="#0000ff"/>
</g>
<text x="1615.8" y="168.9" font-size="9" fill="#fff" textLength="33.2" lengthAdjust="spacingAndGlyphs">109.757</text>
<text x="1615.8" y="204.9" font-size="9" fill="#fff" textLength="33.2" lengthAdjust="spacingAndGlyphs">108.982</text>
<text x="1615.8" y="244.9" font-size="9" fill="#fff" textLength="33.2" lengthAdjust="spacingAndGlyphs">108.142</text>
<text x="1615.8" y="273.9" font-size="9" fill="#fff" textLength="33.2" lengthAdjust="spacingAndGlyphs">107.497</text>
<text x="1615.8" y="306.9" font-size="9" fill="#fff" textLength="33.2" lengthAdjust="spacingAndGlyphs">106.787</text>
<text x="1615.8" y="345.9" font-size="9" fill="#fff" textLength="33.2" lengthAdjust="spacingAndGlyphs">105.948</text>
<path d="M1410 26H1421L1415.5 31.5Z" fill="#a8a8a8"/>
<path d="M4 36 L7.5 32.1 L11 36 Z" fill="#000"/>
<text x="16.2" y="36.8" font-size="9.5" fill="#000" textLength="200" lengthAdjust="spacingAndGlyphs">USDJPY-,H4&#160;&#160;107.128 108.182 106.972 108.142</text>
<text x="5" y="593" font-size="9.5" fill="#000" textLength="131" lengthAdjust="spacingAndGlyphs">MACD(12,26,9) 0.5055 -0.0111</text>
<text x="5" y="765" font-size="9.5" fill="#000" textLength="68" lengthAdjust="spacingAndGlyphs">RSI(14) 68.3215</text>
<g shape-rendering="crispEdges">
<rect x="1498" y="271" width="8" height="1" fill="#ff0000"/>
<rect x="1505" y="270" width="3" height="3" fill="#ff0000"/>
<rect x="1506" y="271" width="1" height="1" fill="#fff"/>
<rect x="1508" y="259" width="74" height="25" fill="#ff0000"/>
<rect x="1509" y="260" width="72" height="23" fill="#fff"/>
</g>
<text x="1510" y="280" font-size="22" fill="#ff0000" textLength="70.5" lengthAdjust="spacingAndGlyphs">107.497</text>
<g stroke-linejoin="round"><text x="1426.6" y="327.6" font-size="31.5" font-weight="bold" fill="#062806" textLength="161.9" lengthAdjust="spacingAndGlyphs" style="font-family:'Liberation Serif','Noto Serif CJK SC',serif">多空转折点</text><text x="1425.6" y="326.6" font-size="31.5" font-weight="bold" fill="#00ff00" textLength="161.9" lengthAdjust="spacingAndGlyphs" style="font-family:'Liberation Serif','Noto Serif CJK SC',serif">多空转折点</text></g>
<g shape-rendering="crispEdges"><line x1="1203.5" y1="564" x2="1247.3" y2="366.8" stroke="#ff0000" stroke-width="3.5"/><polygon points="1249.3,358 1251.6,369.8 1242.2,367.7" fill="#ff0000"/><line x1="1250.8" y1="355.2" x2="1316.9" y2="466.3" stroke="#ff0000" stroke-width="3.5"/><polygon points="1321.5,474 1311.7,467.0 1320.0,462.1" fill="#ff0000"/><line x1="1321.5" y1="472" x2="1414.7" y2="217.8" stroke="#ff0000" stroke-width="3.5"/><polygon points="1417.8,209.3 1418.5,221.3 1409.5,218.0" fill="#ff0000"/></g>
<g><g shape-rendering="crispEdges"><rect x="56" y="44" width="115" height="25" fill="#fff"/><linearGradient id="gp" gradientUnits="userSpaceOnUse" x1="0" y1="45" x2="0" y2="109"><stop offset="0" stop-color="#5656fb"/><stop offset="0.36" stop-color="#3b3be8"/><stop offset="0.7" stop-color="#1515c4"/><stop offset="1" stop-color="#0000a8"/></linearGradient><path d="M4 45H56V69H113V109H4Z" fill="url(#gp)"/><path d="M171 45H223V109H115V69H171Z" fill="url(#gp)"/><path d="M4.5 108.5V45.5H55.5V69" fill="none" stroke="#2a2ad8" stroke-width="1" opacity="0.55"/><path d="M171.5 69V45.5H222.5V108.5" fill="none" stroke="#2a2ad8" stroke-width="1" opacity="0.55"/><rect x="8" y="68" width="44" height="1" fill="#1c1cb4"/><rect x="8" y="69" width="44" height="1" fill="#7d7dff"/><rect x="175" y="68" width="44" height="1" fill="#1c1cb4"/><rect x="175" y="69" width="44" height="1" fill="#7d7dff"/><rect x="58" y="45" width="111" height="22" fill="#a9adb3"/><rect x="59" y="46" width="109" height="20" fill="#fff"/><rect x="59" y="46" width="20" height="20" fill="url(#gbtn)"/><rect x="79" y="46" width="1" height="20" fill="#a9adb3"/><rect x="148" y="46" width="20" height="20" fill="url(#gbtn)"/><rect x="147" y="46" width="1" height="20" fill="#a9adb3"/></g><path d="M66 54.5H71.4L68.7 57.5Z" fill="#4e5fae"/><path d="M155 57.5H160.4L157.7 54.5Z" fill="#4e5fae"/><text x="16.6" y="61" font-size="12" fill="#fff" textLength="25.5" lengthAdjust="spacingAndGlyphs">SELL</text><text x="184.6" y="61" font-size="12" fill="#fff" textLength="22.4" lengthAdjust="spacingAndGlyphs">BUY</text><text x="143.3" y="60.2" font-size="12" fill="#000" text-anchor="end" textLength="22.5" lengthAdjust="spacingAndGlyphs">1.00</text><text x="27.5" y="100" font-size="12" fill="#fff" font-weight="bold" textLength="20.5" lengthAdjust="spacingAndGlyphs">108</text><text x="50.6" y="100" font-size="33.5" fill="#fff" textLength="36" lengthAdjust="spacingAndGlyphs">14</text><text x="91.3" y="84" font-size="11.5" fill="#fff" font-weight="bold">2</text><text x="137.4" y="100" font-size="12" fill="#fff" font-weight="bold" textLength="20.5" lengthAdjust="spacingAndGlyphs">108</text><text x="161.5" y="100" font-size="33.5" fill="#fff" textLength="36" lengthAdjust="spacingAndGlyphs">16</text><text x="201.6" y="84" font-size="11.5" fill="#fff" font-weight="bold">7</text></g>
</svg></body></html>
